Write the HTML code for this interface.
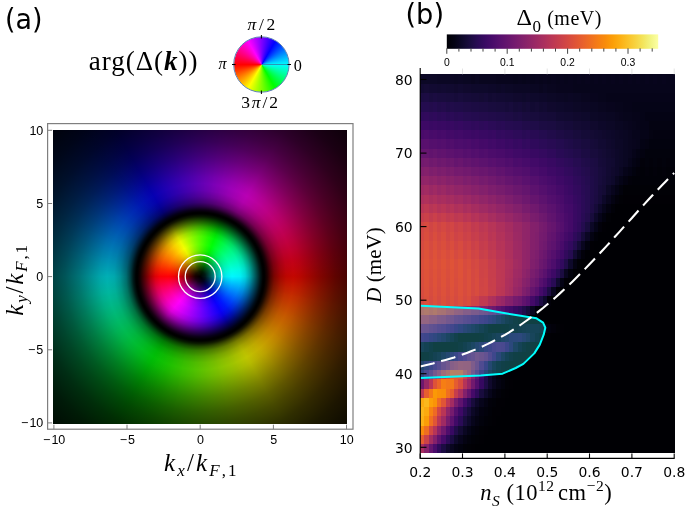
<!DOCTYPE html>
<html><head><meta charset="utf-8"><title>figure</title>
<style>
html,body{margin:0;padding:0;background:#fff}
#root{position:relative;width:685px;height:507px;overflow:hidden;background:#fff}
#ov{position:absolute;left:0;top:0}

#pa{position:absolute;left:53.0px;top:130.0px;width:294.2px;height:293.6px;background:conic-gradient(from 0deg at 147.2px 146.6px, rgba(0,0,0,0.085) 0deg, rgba(0,0,0,0.075) 15deg, rgba(0,0,0,0.063) 30deg, rgba(0,0,0,0.050) 45deg, rgba(0,0,0,0.037) 60deg, rgba(0,0,0,0.025) 75deg, rgba(0,0,0,0.015) 90deg, rgba(0,0,0,0.007) 105deg, rgba(0,0,0,0.002) 120deg, rgba(0,0,0,0.000) 135deg, rgba(0,0,0,0.002) 150deg, rgba(0,0,0,0.007) 165deg, rgba(0,0,0,0.015) 180deg, rgba(0,0,0,0.025) 195deg, rgba(0,0,0,0.037) 210deg, rgba(0,0,0,0.050) 225deg, rgba(0,0,0,0.063) 240deg, rgba(0,0,0,0.075) 255deg, rgba(0,0,0,0.085) 270deg, rgba(0,0,0,0.093) 285deg, rgba(0,0,0,0.098) 300deg, rgba(0,0,0,0.100) 315deg, rgba(0,0,0,0.098) 330deg, rgba(0,0,0,0.093) 345deg, rgba(0,0,0,0.085) 360deg), conic-gradient(from 0deg at 147.2px 146.6px, #8800ff 0deg, #b300ff 10deg, #dd00ff 20deg, #ff00f7 30deg, #ff00cc 40deg, #ff00a1 50deg, #ff0077 60deg, #ff004d 70deg, #ff0022 80deg, #ff0800 90deg, #ff3300 100deg, #ff5e00 110deg, #ff8800 120deg, #ffb200 130deg, #ffdd00 140deg, #f7ff00 150deg, #ccff00 160deg, #a2ff00 170deg, #77ff00 180deg, #4dff00 190deg, #22ff00 200deg, #00ff08 210deg, #00ff33 220deg, #00ff5e 230deg, #00ff88 240deg, #00ffb3 250deg, #00ffdd 260deg, #00f7ff 270deg, #00ccff 280deg, #00a2ff 290deg, #0077ff 300deg, #004cff 310deg, #0022ff 320deg, #0800ff 330deg, #3300ff 340deg, #5d00ff 350deg, #8800ff 360deg);overflow:hidden}
#pin{position:absolute;left:83.7px;top:83.1px;width:127.0px;height:127.0px;border-radius:50%;background:conic-gradient(from 0deg at 63.5px 63.5px, #55ff00 0deg, #28ff00 10deg, #00ff06 20deg, #00ff33 30deg, #00ff60 40deg, #00ff87 50deg, #00ffa7 60deg, #00ffc7 70deg, #00ffe7 80deg, #00f7ff 90deg, #00c9ff 100deg, #009cff 110deg, #006fff 120deg, #0041ff 130deg, #0019ff 140deg, #0b00ff 150deg, #2f00ff 160deg, #5300ff 170deg, #7700ff 180deg, #9a00ff 190deg, #bd00ff 200deg, #e000ff 210deg, #ff00fb 220deg, #ff00d1 230deg, #ff009f 240deg, #ff006d 250deg, #ff003b 260deg, #ff0008 270deg, #ff2400 280deg, #ff5000 290deg, #ff7d00 300deg, #ffa900 310deg, #ffd800 320deg, #f4ff00 330deg, #baff00 340deg, #85ff00 350deg, #55ff00 360deg)}
#pov{position:absolute;left:0;top:0;width:100%;height:100%;background:radial-gradient(circle at 147.2px 146.6px, rgba(0,0,0,1.000) 0.0px, rgba(0,0,0,0.900) 5.0px, rgba(0,0,0,0.680) 10.0px, rgba(0,0,0,0.420) 15.0px, rgba(0,0,0,0.200) 20.0px, rgba(0,0,0,0.050) 26.0px, rgba(0,0,0,0.000) 32.0px, rgba(0,0,0,0.030) 40.0px, rgba(0,0,0,0.140) 45.0px, rgba(0,0,0,0.360) 50.0px, rgba(0,0,0,0.580) 54.0px, rgba(0,0,0,0.740) 57.0px, rgba(0,0,0,0.900) 60.0px, rgba(0,0,0,0.990) 62.5px, rgba(0,0,0,1.000) 63.5px, rgba(0,0,0,0.990) 64.5px, rgba(0,0,0,0.892) 67.0px, rgba(0,0,0,0.708) 70.0px, rgba(0,0,0,0.514) 74.0px, rgba(0,0,0,0.352) 80.0px, rgba(0,0,0,0.255) 86.0px, rgba(0,0,0,0.222) 93.0px, rgba(0,0,0,0.266) 100.0px, rgba(0,0,0,0.374) 110.0px, rgba(0,0,0,0.482) 120.0px, rgba(0,0,0,0.622) 135.0px, rgba(0,0,0,0.708) 147.0px, rgba(0,0,0,0.811) 165.0px, rgba(0,0,0,0.892) 185.0px, rgba(0,0,0,0.941) 205.0px, rgba(0,0,0,0.973) 230.0px)}
#leg{position:absolute;left:233.7px;top:36.8px;width:55.4px;height:55.4px;border-radius:50%;background:conic-gradient(from 0deg at 27.7px 27.7px, #8000ff 0deg, #5500ff 10deg, #2a00ff 20deg, #0000ff 30deg, #002bff 40deg, #0055ff 50deg, #0080ff 60deg, #00aaff 70deg, #00d4ff 80deg, #00ffff 90deg, #00ffd4 100deg, #00ffaa 110deg, #00ff80 120deg, #00ff55 130deg, #00ff2a 140deg, #00ff00 150deg, #2aff00 160deg, #55ff00 170deg, #80ff00 180deg, #aaff00 190deg, #d4ff00 200deg, #ffff00 210deg, #ffd400 220deg, #ffaa00 230deg, #ff8000 240deg, #ff5500 250deg, #ff2a00 260deg, #ff0000 270deg, #ff002b 280deg, #ff0055 290deg, #ff0080 300deg, #ff00aa 310deg, #ff00d4 320deg, #ff00ff 330deg, #d500ff 340deg, #aa00ff 350deg, #8000ff 360deg)}

</style></head><body><div id="root">
<div id="pa"><div id="pin"></div><div id="pov"></div></div>
<div id="leg"></div>
<svg id="ov" width="685" height="507" viewBox="0 0 685 507">
<g shape-rendering="crispEdges"><rect x="420.20" y="443.66" width="4.63" height="9.64" fill="#a82e5f"/>
<rect x="424.43" y="443.66" width="4.63" height="9.64" fill="#88226a"/>
<rect x="428.67" y="443.66" width="4.63" height="9.64" fill="#64156e"/>
<rect x="432.90" y="443.66" width="4.63" height="9.64" fill="#4a0c6b"/>
<rect x="437.13" y="443.66" width="4.63" height="9.64" fill="#2f0a5b"/>
<rect x="441.37" y="443.66" width="4.63" height="9.64" fill="#1c0c43"/>
<rect x="445.60" y="443.66" width="4.63" height="9.64" fill="#10092d"/>
<rect x="449.83" y="443.66" width="4.63" height="9.64" fill="#09061f"/>
<rect x="454.07" y="443.66" width="4.63" height="9.64" fill="#040314"/>
<rect x="458.30" y="443.66" width="4.63" height="9.64" fill="#02020e"/>
<rect x="462.53" y="443.66" width="4.63" height="9.64" fill="#010108"/>
<rect x="466.77" y="443.66" width="4.63" height="9.64" fill="#010106"/>
<rect x="471.00" y="443.66" width="4.63" height="9.64" fill="#010005"/>
<rect x="475.23" y="443.66" width="199.37" height="9.64" fill="#000004"/>
<rect x="420.20" y="434.43" width="4.63" height="9.64" fill="#e55c30"/>
<rect x="424.43" y="434.43" width="4.63" height="9.64" fill="#cc4248"/>
<rect x="428.67" y="434.43" width="4.63" height="9.64" fill="#a32c61"/>
<rect x="432.90" y="434.43" width="4.63" height="9.64" fill="#84206b"/>
<rect x="437.13" y="434.43" width="4.63" height="9.64" fill="#61136e"/>
<rect x="441.37" y="434.43" width="4.63" height="9.64" fill="#470b6a"/>
<rect x="445.60" y="434.43" width="4.63" height="9.64" fill="#2d0b59"/>
<rect x="449.83" y="434.43" width="4.63" height="9.64" fill="#1c0c43"/>
<rect x="454.07" y="434.43" width="4.63" height="9.64" fill="#0e092b"/>
<rect x="458.30" y="434.43" width="4.63" height="9.64" fill="#08051d"/>
<rect x="462.53" y="434.43" width="4.63" height="9.64" fill="#040312"/>
<rect x="466.77" y="434.43" width="4.63" height="9.64" fill="#02020c"/>
<rect x="471.00" y="434.43" width="4.63" height="9.64" fill="#010108"/>
<rect x="475.23" y="434.43" width="4.63" height="9.64" fill="#010106"/>
<rect x="479.47" y="434.43" width="4.63" height="9.64" fill="#010005"/>
<rect x="483.70" y="434.43" width="190.90" height="9.64" fill="#000004"/>
<rect x="420.20" y="425.19" width="4.63" height="9.64" fill="#f98b0b"/>
<rect x="424.43" y="425.19" width="4.63" height="9.64" fill="#ef6e21"/>
<rect x="428.67" y="425.19" width="4.63" height="9.64" fill="#d24644"/>
<rect x="432.90" y="425.19" width="4.63" height="9.64" fill="#b63458"/>
<rect x="437.13" y="425.19" width="4.63" height="9.64" fill="#8d2369"/>
<rect x="441.37" y="425.19" width="4.63" height="9.64" fill="#6f196e"/>
<rect x="445.60" y="425.19" width="4.63" height="9.64" fill="#4f0d6c"/>
<rect x="449.83" y="425.19" width="4.63" height="9.64" fill="#380962"/>
<rect x="454.07" y="425.19" width="4.63" height="9.64" fill="#210c4a"/>
<rect x="458.30" y="425.19" width="4.63" height="9.64" fill="#140b34"/>
<rect x="462.53" y="425.19" width="4.63" height="9.64" fill="#0a0722"/>
<rect x="466.77" y="425.19" width="4.63" height="9.64" fill="#050417"/>
<rect x="471.00" y="425.19" width="4.63" height="9.64" fill="#02020e"/>
<rect x="475.23" y="425.19" width="4.63" height="9.64" fill="#02010a"/>
<rect x="479.47" y="425.19" width="4.63" height="9.64" fill="#010106"/>
<rect x="483.70" y="425.19" width="4.63" height="9.64" fill="#010005"/>
<rect x="487.93" y="425.19" width="186.67" height="9.64" fill="#000004"/>
<rect x="420.20" y="415.95" width="4.63" height="9.64" fill="#fcb216"/>
<rect x="424.43" y="415.95" width="4.63" height="9.64" fill="#fb9d07"/>
<rect x="428.67" y="415.95" width="4.63" height="9.64" fill="#f06f20"/>
<rect x="432.90" y="415.95" width="4.63" height="9.64" fill="#e05536"/>
<rect x="437.13" y="415.95" width="4.63" height="9.64" fill="#bc3754"/>
<rect x="441.37" y="415.95" width="4.63" height="9.64" fill="#9f2a63"/>
<rect x="445.60" y="415.95" width="4.63" height="9.64" fill="#771c6d"/>
<rect x="449.83" y="415.95" width="4.63" height="9.64" fill="#5d126e"/>
<rect x="454.07" y="415.95" width="4.63" height="9.64" fill="#400a67"/>
<rect x="458.30" y="415.95" width="4.63" height="9.64" fill="#2b0b57"/>
<rect x="462.53" y="415.95" width="4.63" height="9.64" fill="#180c3c"/>
<rect x="466.77" y="415.95" width="4.63" height="9.64" fill="#0e092b"/>
<rect x="471.00" y="415.95" width="4.63" height="9.64" fill="#07051b"/>
<rect x="475.23" y="415.95" width="4.63" height="9.64" fill="#040312"/>
<rect x="479.47" y="415.95" width="4.63" height="9.64" fill="#02020c"/>
<rect x="483.70" y="415.95" width="4.63" height="9.64" fill="#010108"/>
<rect x="487.93" y="415.95" width="4.63" height="9.64" fill="#010106"/>
<rect x="492.17" y="415.95" width="4.63" height="9.64" fill="#010005"/>
<rect x="496.40" y="415.95" width="178.20" height="9.64" fill="#000004"/>
<rect x="420.20" y="406.72" width="4.63" height="9.64" fill="#fbb61a"/>
<rect x="424.43" y="406.72" width="4.63" height="9.64" fill="#fcaa0f"/>
<rect x="428.67" y="406.72" width="4.63" height="9.64" fill="#f78212"/>
<rect x="432.90" y="406.72" width="4.63" height="9.64" fill="#ee6a24"/>
<rect x="437.13" y="406.72" width="4.63" height="9.64" fill="#d24644"/>
<rect x="441.37" y="406.72" width="4.63" height="9.64" fill="#b93556"/>
<rect x="445.60" y="406.72" width="4.63" height="9.64" fill="#902568"/>
<rect x="449.83" y="406.72" width="4.63" height="9.64" fill="#751b6e"/>
<rect x="454.07" y="406.72" width="4.63" height="9.64" fill="#550f6d"/>
<rect x="458.30" y="406.72" width="4.63" height="9.64" fill="#3e0966"/>
<rect x="462.53" y="406.72" width="4.63" height="9.64" fill="#260c51"/>
<rect x="466.77" y="406.72" width="4.63" height="9.64" fill="#180c3c"/>
<rect x="471.00" y="406.72" width="4.63" height="9.64" fill="#0c0826"/>
<rect x="475.23" y="406.72" width="4.63" height="9.64" fill="#07051b"/>
<rect x="479.47" y="406.72" width="4.63" height="9.64" fill="#030210"/>
<rect x="483.70" y="406.72" width="4.63" height="9.64" fill="#02020c"/>
<rect x="487.93" y="406.72" width="4.63" height="9.64" fill="#010108"/>
<rect x="492.17" y="406.72" width="8.87" height="9.64" fill="#010005"/>
<rect x="500.63" y="406.72" width="173.97" height="9.64" fill="#000004"/>
<rect x="420.20" y="397.48" width="4.63" height="9.64" fill="#fcac11"/>
<rect x="424.43" y="397.48" width="4.63" height="9.64" fill="#fbb81d"/>
<rect x="428.67" y="397.48" width="4.63" height="9.64" fill="#fc9f07"/>
<rect x="432.90" y="397.48" width="4.63" height="9.64" fill="#fa9407"/>
<rect x="437.13" y="397.48" width="4.63" height="9.64" fill="#ef6c23"/>
<rect x="441.37" y="397.48" width="4.63" height="9.64" fill="#e05536"/>
<rect x="445.60" y="397.48" width="4.63" height="9.64" fill="#bf3952"/>
<rect x="449.83" y="397.48" width="4.63" height="9.64" fill="#a22b62"/>
<rect x="454.07" y="397.48" width="4.63" height="9.64" fill="#7a1d6d"/>
<rect x="458.30" y="397.48" width="4.63" height="9.64" fill="#5f136e"/>
<rect x="462.53" y="397.48" width="4.63" height="9.64" fill="#420a68"/>
<rect x="466.77" y="397.48" width="4.63" height="9.64" fill="#2b0b57"/>
<rect x="471.00" y="397.48" width="4.63" height="9.64" fill="#180c3c"/>
<rect x="475.23" y="397.48" width="4.63" height="9.64" fill="#0d0829"/>
<rect x="479.47" y="397.48" width="4.63" height="9.64" fill="#07051b"/>
<rect x="483.70" y="397.48" width="4.63" height="9.64" fill="#040312"/>
<rect x="487.93" y="397.48" width="4.63" height="9.64" fill="#02010a"/>
<rect x="492.17" y="397.48" width="4.63" height="9.64" fill="#010108"/>
<rect x="496.40" y="397.48" width="8.87" height="9.64" fill="#010005"/>
<rect x="504.87" y="397.48" width="169.73" height="9.64" fill="#000004"/>
<rect x="420.20" y="388.24" width="4.63" height="9.64" fill="#bd3853"/>
<rect x="424.43" y="388.24" width="4.63" height="9.64" fill="#e75e2e"/>
<rect x="428.67" y="388.24" width="4.63" height="9.64" fill="#f47918"/>
<rect x="432.90" y="388.24" width="4.63" height="9.64" fill="#fb9906"/>
<rect x="437.13" y="388.24" width="4.63" height="9.64" fill="#fa9008"/>
<rect x="441.37" y="388.24" width="4.63" height="9.64" fill="#f98e09"/>
<rect x="445.60" y="388.24" width="4.63" height="9.64" fill="#f06f20"/>
<rect x="449.83" y="388.24" width="4.63" height="9.64" fill="#e55c30"/>
<rect x="454.07" y="388.24" width="4.63" height="9.64" fill="#c63d4d"/>
<rect x="458.30" y="388.24" width="4.63" height="9.64" fill="#ab2f5e"/>
<rect x="462.53" y="388.24" width="4.63" height="9.64" fill="#82206c"/>
<rect x="466.77" y="388.24" width="4.63" height="9.64" fill="#65156e"/>
<rect x="471.00" y="388.24" width="4.63" height="9.64" fill="#450a69"/>
<rect x="475.23" y="388.24" width="4.63" height="9.64" fill="#2f0a5b"/>
<rect x="479.47" y="388.24" width="4.63" height="9.64" fill="#190c3e"/>
<rect x="483.70" y="388.24" width="4.63" height="9.64" fill="#0e092b"/>
<rect x="487.93" y="388.24" width="4.63" height="9.64" fill="#07051b"/>
<rect x="492.17" y="388.24" width="4.63" height="9.64" fill="#030210"/>
<rect x="496.40" y="388.24" width="4.63" height="9.64" fill="#02010a"/>
<rect x="500.63" y="388.24" width="4.63" height="9.64" fill="#010106"/>
<rect x="504.87" y="388.24" width="4.63" height="9.64" fill="#010005"/>
<rect x="509.10" y="388.24" width="165.50" height="9.64" fill="#000004"/>
<rect x="420.20" y="379.01" width="4.63" height="9.64" fill="#6d186e"/>
<rect x="424.43" y="379.01" width="4.63" height="9.64" fill="#982766"/>
<rect x="428.67" y="379.01" width="4.63" height="9.64" fill="#b93556"/>
<rect x="432.90" y="379.01" width="4.63" height="9.64" fill="#de5238"/>
<rect x="437.13" y="379.01" width="4.63" height="9.64" fill="#eb6429"/>
<rect x="441.37" y="379.01" width="4.63" height="9.64" fill="#f67e14"/>
<rect x="445.60" y="379.01" width="8.87" height="9.64" fill="#f37819"/>
<rect x="454.07" y="379.01" width="4.63" height="9.64" fill="#e55c30"/>
<rect x="458.30" y="379.01" width="4.63" height="9.64" fill="#d74b3f"/>
<rect x="462.53" y="379.01" width="4.63" height="9.64" fill="#b43359"/>
<rect x="466.77" y="379.01" width="4.63" height="9.64" fill="#972766"/>
<rect x="471.00" y="379.01" width="4.63" height="9.64" fill="#71196e"/>
<rect x="475.23" y="379.01" width="4.63" height="9.64" fill="#540f6d"/>
<rect x="479.47" y="379.01" width="4.63" height="9.64" fill="#360961"/>
<rect x="483.70" y="379.01" width="4.63" height="9.64" fill="#1f0c48"/>
<rect x="487.93" y="379.01" width="4.63" height="9.64" fill="#10092d"/>
<rect x="492.17" y="379.01" width="4.63" height="9.64" fill="#08051d"/>
<rect x="496.40" y="379.01" width="4.63" height="9.64" fill="#040312"/>
<rect x="500.63" y="379.01" width="4.63" height="9.64" fill="#02020c"/>
<rect x="504.87" y="379.01" width="4.63" height="9.64" fill="#010106"/>
<rect x="509.10" y="379.01" width="4.63" height="9.64" fill="#010005"/>
<rect x="513.33" y="379.01" width="161.27" height="9.64" fill="#000004"/>
<rect x="420.20" y="369.77" width="4.63" height="9.64" fill="#320a5e"/>
<rect x="424.43" y="369.77" width="4.63" height="9.64" fill="#510e6c"/>
<rect x="428.67" y="369.77" width="4.63" height="9.64" fill="#6a176e"/>
<rect x="432.90" y="369.77" width="4.63" height="9.64" fill="#8d2369"/>
<rect x="437.13" y="369.77" width="4.63" height="9.64" fill="#a62d60"/>
<rect x="441.37" y="369.77" width="4.63" height="9.64" fill="#c63d4d"/>
<rect x="445.60" y="369.77" width="4.63" height="9.64" fill="#d44842"/>
<rect x="449.83" y="369.77" width="4.63" height="9.64" fill="#e45a31"/>
<rect x="454.07" y="369.77" width="8.87" height="9.64" fill="#e25734"/>
<rect x="462.53" y="369.77" width="4.63" height="9.64" fill="#ca404a"/>
<rect x="466.77" y="369.77" width="4.63" height="9.64" fill="#b1325a"/>
<rect x="471.00" y="369.77" width="4.63" height="9.64" fill="#85216b"/>
<rect x="475.23" y="369.77" width="4.63" height="9.64" fill="#62146e"/>
<rect x="479.47" y="369.77" width="4.63" height="9.64" fill="#3d0965"/>
<rect x="483.70" y="369.77" width="4.63" height="9.64" fill="#210c4a"/>
<rect x="487.93" y="369.77" width="4.63" height="9.64" fill="#0e092b"/>
<rect x="492.17" y="369.77" width="4.63" height="9.64" fill="#060419"/>
<rect x="496.40" y="369.77" width="4.63" height="9.64" fill="#02020c"/>
<rect x="500.63" y="369.77" width="4.63" height="9.64" fill="#010106"/>
<rect x="504.87" y="369.77" width="4.63" height="9.64" fill="#010005"/>
<rect x="509.10" y="369.77" width="165.50" height="9.64" fill="#000004"/>
<rect x="420.20" y="360.53" width="4.63" height="9.64" fill="#1b0c41"/>
<rect x="424.43" y="360.53" width="4.63" height="9.64" fill="#2b0b57"/>
<rect x="428.67" y="360.53" width="4.63" height="9.64" fill="#3b0964"/>
<rect x="432.90" y="360.53" width="4.63" height="9.64" fill="#4f0d6c"/>
<rect x="437.13" y="360.53" width="4.63" height="9.64" fill="#61136e"/>
<rect x="441.37" y="360.53" width="4.63" height="9.64" fill="#781c6d"/>
<rect x="445.60" y="360.53" width="4.63" height="9.64" fill="#88226a"/>
<rect x="449.83" y="360.53" width="4.63" height="9.64" fill="#a22b62"/>
<rect x="454.07" y="360.53" width="4.63" height="9.64" fill="#ab2f5e"/>
<rect x="458.30" y="360.53" width="4.63" height="9.64" fill="#b63458"/>
<rect x="462.53" y="360.53" width="4.63" height="9.64" fill="#b3325a"/>
<rect x="466.77" y="360.53" width="4.63" height="9.64" fill="#b1325a"/>
<rect x="471.00" y="360.53" width="4.63" height="9.64" fill="#972766"/>
<rect x="475.23" y="360.53" width="4.63" height="9.64" fill="#7d1e6d"/>
<rect x="479.47" y="360.53" width="4.63" height="9.64" fill="#57106e"/>
<rect x="483.70" y="360.53" width="4.63" height="9.64" fill="#390963"/>
<rect x="487.93" y="360.53" width="4.63" height="9.64" fill="#1c0c43"/>
<rect x="492.17" y="360.53" width="4.63" height="9.64" fill="#0c0826"/>
<rect x="496.40" y="360.53" width="4.63" height="9.64" fill="#040314"/>
<rect x="500.63" y="360.53" width="4.63" height="9.64" fill="#02010a"/>
<rect x="504.87" y="360.53" width="4.63" height="9.64" fill="#010106"/>
<rect x="509.10" y="360.53" width="165.50" height="9.64" fill="#000004"/>
<rect x="420.20" y="351.30" width="4.63" height="9.64" fill="#010005"/>
<rect x="424.43" y="351.30" width="4.63" height="9.64" fill="#010108"/>
<rect x="428.67" y="351.30" width="4.63" height="9.64" fill="#02020e"/>
<rect x="432.90" y="351.30" width="4.63" height="9.64" fill="#060419"/>
<rect x="437.13" y="351.30" width="4.63" height="9.64" fill="#0a0722"/>
<rect x="441.37" y="351.30" width="4.63" height="9.64" fill="#120a32"/>
<rect x="445.60" y="351.30" width="4.63" height="9.64" fill="#1c0c43"/>
<rect x="449.83" y="351.30" width="4.63" height="9.64" fill="#2b0b57"/>
<rect x="454.07" y="351.30" width="4.63" height="9.64" fill="#390963"/>
<rect x="458.30" y="351.30" width="4.63" height="9.64" fill="#4c0c6b"/>
<rect x="462.53" y="351.30" width="4.63" height="9.64" fill="#59106e"/>
<rect x="466.77" y="351.30" width="4.63" height="9.64" fill="#6c186e"/>
<rect x="471.00" y="351.30" width="4.63" height="9.64" fill="#751b6e"/>
<rect x="475.23" y="351.30" width="4.63" height="9.64" fill="#85216b"/>
<rect x="479.47" y="351.30" width="4.63" height="9.64" fill="#7f1e6c"/>
<rect x="483.70" y="351.30" width="4.63" height="9.64" fill="#741a6e"/>
<rect x="487.93" y="351.30" width="4.63" height="9.64" fill="#59106e"/>
<rect x="492.17" y="351.30" width="4.63" height="9.64" fill="#400a67"/>
<rect x="496.40" y="351.30" width="4.63" height="9.64" fill="#240c4f"/>
<rect x="500.63" y="351.30" width="4.63" height="9.64" fill="#120a32"/>
<rect x="504.87" y="351.30" width="4.63" height="9.64" fill="#08051d"/>
<rect x="509.10" y="351.30" width="4.63" height="9.64" fill="#030210"/>
<rect x="513.33" y="351.30" width="4.63" height="9.64" fill="#010108"/>
<rect x="517.57" y="351.30" width="4.63" height="9.64" fill="#010005"/>
<rect x="521.80" y="351.30" width="152.80" height="9.64" fill="#000004"/>
<rect x="420.20" y="342.06" width="4.63" height="9.64" fill="#0b0724"/>
<rect x="424.43" y="342.06" width="4.63" height="9.64" fill="#060419"/>
<rect x="428.67" y="342.06" width="4.63" height="9.64" fill="#02020e"/>
<rect x="432.90" y="342.06" width="21.57" height="9.64" fill="#000004"/>
<rect x="454.07" y="342.06" width="4.63" height="9.64" fill="#010005"/>
<rect x="458.30" y="342.06" width="4.63" height="9.64" fill="#02020c"/>
<rect x="462.53" y="342.06" width="4.63" height="9.64" fill="#050417"/>
<rect x="466.77" y="342.06" width="4.63" height="9.64" fill="#0a0722"/>
<rect x="471.00" y="342.06" width="4.63" height="9.64" fill="#110a30"/>
<rect x="475.23" y="342.06" width="4.63" height="9.64" fill="#1b0c41"/>
<rect x="479.47" y="342.06" width="4.63" height="9.64" fill="#240c4f"/>
<rect x="483.70" y="342.06" width="4.63" height="9.64" fill="#340a5f"/>
<rect x="487.93" y="342.06" width="4.63" height="9.64" fill="#3e0966"/>
<rect x="492.17" y="342.06" width="4.63" height="9.64" fill="#4c0c6b"/>
<rect x="496.40" y="342.06" width="4.63" height="9.64" fill="#520e6d"/>
<rect x="500.63" y="342.06" width="4.63" height="9.64" fill="#4f0d6c"/>
<rect x="504.87" y="342.06" width="4.63" height="9.64" fill="#3b0964"/>
<rect x="509.10" y="342.06" width="4.63" height="9.64" fill="#260c51"/>
<rect x="513.33" y="342.06" width="4.63" height="9.64" fill="#120a32"/>
<rect x="517.57" y="342.06" width="4.63" height="9.64" fill="#08051d"/>
<rect x="521.80" y="342.06" width="4.63" height="9.64" fill="#02020e"/>
<rect x="526.03" y="342.06" width="4.63" height="9.64" fill="#010106"/>
<rect x="530.27" y="342.06" width="4.63" height="9.64" fill="#010005"/>
<rect x="534.50" y="342.06" width="140.10" height="9.64" fill="#000004"/>
<rect x="420.20" y="332.82" width="4.63" height="9.64" fill="#440a68"/>
<rect x="424.43" y="332.82" width="4.63" height="9.64" fill="#3e0966"/>
<rect x="428.67" y="332.82" width="4.63" height="9.64" fill="#320a5e"/>
<rect x="432.90" y="332.82" width="4.63" height="9.64" fill="#2b0b57"/>
<rect x="437.13" y="332.82" width="4.63" height="9.64" fill="#210c4a"/>
<rect x="441.37" y="332.82" width="4.63" height="9.64" fill="#190c3e"/>
<rect x="445.60" y="332.82" width="4.63" height="9.64" fill="#10092d"/>
<rect x="449.83" y="332.82" width="4.63" height="9.64" fill="#09061f"/>
<rect x="454.07" y="332.82" width="4.63" height="9.64" fill="#030210"/>
<rect x="458.30" y="332.82" width="21.57" height="9.64" fill="#000004"/>
<rect x="479.47" y="332.82" width="4.63" height="9.64" fill="#010106"/>
<rect x="483.70" y="332.82" width="4.63" height="9.64" fill="#02020e"/>
<rect x="487.93" y="332.82" width="4.63" height="9.64" fill="#040314"/>
<rect x="492.17" y="332.82" width="4.63" height="9.64" fill="#09061f"/>
<rect x="496.40" y="332.82" width="4.63" height="9.64" fill="#0d0829"/>
<rect x="500.63" y="332.82" width="4.63" height="9.64" fill="#150b37"/>
<rect x="504.87" y="332.82" width="4.63" height="9.64" fill="#1b0c41"/>
<rect x="509.10" y="332.82" width="4.63" height="9.64" fill="#240c4f"/>
<rect x="513.33" y="332.82" width="4.63" height="9.64" fill="#260c51"/>
<rect x="517.57" y="332.82" width="4.63" height="9.64" fill="#280b53"/>
<rect x="521.80" y="332.82" width="4.63" height="9.64" fill="#1f0c48"/>
<rect x="526.03" y="332.82" width="4.63" height="9.64" fill="#160b39"/>
<rect x="530.27" y="332.82" width="4.63" height="9.64" fill="#0b0724"/>
<rect x="534.50" y="332.82" width="4.63" height="9.64" fill="#050417"/>
<rect x="538.73" y="332.82" width="4.63" height="9.64" fill="#02020c"/>
<rect x="542.97" y="332.82" width="4.63" height="9.64" fill="#010106"/>
<rect x="547.20" y="332.82" width="4.63" height="9.64" fill="#010005"/>
<rect x="551.43" y="332.82" width="123.17" height="9.64" fill="#000004"/>
<rect x="420.20" y="323.59" width="4.63" height="9.64" fill="#7d1e6d"/>
<rect x="424.43" y="323.59" width="4.63" height="9.64" fill="#7a1d6d"/>
<rect x="428.67" y="323.59" width="4.63" height="9.64" fill="#6f196e"/>
<rect x="432.90" y="323.59" width="4.63" height="9.64" fill="#6a176e"/>
<rect x="437.13" y="323.59" width="4.63" height="9.64" fill="#5f136e"/>
<rect x="441.37" y="323.59" width="4.63" height="9.64" fill="#5a116e"/>
<rect x="445.60" y="323.59" width="4.63" height="9.64" fill="#4d0d6c"/>
<rect x="449.83" y="323.59" width="4.63" height="9.64" fill="#450a69"/>
<rect x="454.07" y="323.59" width="4.63" height="9.64" fill="#380962"/>
<rect x="458.30" y="323.59" width="4.63" height="9.64" fill="#2d0b59"/>
<rect x="462.53" y="323.59" width="4.63" height="9.64" fill="#230c4c"/>
<rect x="466.77" y="323.59" width="4.63" height="9.64" fill="#1c0c43"/>
<rect x="471.00" y="323.59" width="4.63" height="9.64" fill="#150b37"/>
<rect x="475.23" y="323.59" width="4.63" height="9.64" fill="#10092d"/>
<rect x="479.47" y="323.59" width="4.63" height="9.64" fill="#09061f"/>
<rect x="483.70" y="323.59" width="4.63" height="9.64" fill="#040312"/>
<rect x="487.93" y="323.59" width="4.63" height="9.64" fill="#010106"/>
<rect x="492.17" y="323.59" width="8.87" height="9.64" fill="#000004"/>
<rect x="500.63" y="323.59" width="4.63" height="9.64" fill="#010106"/>
<rect x="504.87" y="323.59" width="4.63" height="9.64" fill="#010108"/>
<rect x="509.10" y="323.59" width="4.63" height="9.64" fill="#02020e"/>
<rect x="513.33" y="323.59" width="4.63" height="9.64" fill="#030210"/>
<rect x="517.57" y="323.59" width="4.63" height="9.64" fill="#050417"/>
<rect x="521.80" y="323.59" width="4.63" height="9.64" fill="#07051b"/>
<rect x="526.03" y="323.59" width="13.10" height="9.64" fill="#09061f"/>
<rect x="538.73" y="323.59" width="4.63" height="9.64" fill="#07051b"/>
<rect x="542.97" y="323.59" width="4.63" height="9.64" fill="#050417"/>
<rect x="547.20" y="323.59" width="4.63" height="9.64" fill="#02020e"/>
<rect x="551.43" y="323.59" width="4.63" height="9.64" fill="#02010a"/>
<rect x="555.67" y="323.59" width="4.63" height="9.64" fill="#010106"/>
<rect x="559.90" y="323.59" width="4.63" height="9.64" fill="#010005"/>
<rect x="564.13" y="323.59" width="110.47" height="9.64" fill="#000004"/>
<rect x="420.20" y="314.35" width="8.87" height="9.64" fill="#b63458"/>
<rect x="428.67" y="314.35" width="4.63" height="9.64" fill="#a92e5e"/>
<rect x="432.90" y="314.35" width="4.63" height="9.64" fill="#a82e5f"/>
<rect x="437.13" y="314.35" width="4.63" height="9.64" fill="#9a2865"/>
<rect x="441.37" y="314.35" width="4.63" height="9.64" fill="#972766"/>
<rect x="445.60" y="314.35" width="4.63" height="9.64" fill="#8a226a"/>
<rect x="449.83" y="314.35" width="4.63" height="9.64" fill="#84206b"/>
<rect x="454.07" y="314.35" width="4.63" height="9.64" fill="#751b6e"/>
<rect x="458.30" y="314.35" width="4.63" height="9.64" fill="#6f196e"/>
<rect x="462.53" y="314.35" width="4.63" height="9.64" fill="#64156e"/>
<rect x="466.77" y="314.35" width="4.63" height="9.64" fill="#61136e"/>
<rect x="471.00" y="314.35" width="4.63" height="9.64" fill="#550f6d"/>
<rect x="475.23" y="314.35" width="4.63" height="9.64" fill="#510e6c"/>
<rect x="479.47" y="314.35" width="4.63" height="9.64" fill="#450a69"/>
<rect x="483.70" y="314.35" width="4.63" height="9.64" fill="#3e0966"/>
<rect x="487.93" y="314.35" width="4.63" height="9.64" fill="#310a5c"/>
<rect x="492.17" y="314.35" width="4.63" height="9.64" fill="#280b53"/>
<rect x="496.40" y="314.35" width="4.63" height="9.64" fill="#1b0c41"/>
<rect x="500.63" y="314.35" width="4.63" height="9.64" fill="#110a30"/>
<rect x="504.87" y="314.35" width="4.63" height="9.64" fill="#09061f"/>
<rect x="509.10" y="314.35" width="4.63" height="9.64" fill="#050417"/>
<rect x="513.33" y="314.35" width="4.63" height="9.64" fill="#02020c"/>
<rect x="517.57" y="314.35" width="157.03" height="9.64" fill="#000004"/>
<rect x="420.20" y="305.11" width="4.63" height="9.64" fill="#d54a41"/>
<rect x="424.43" y="305.11" width="4.63" height="9.64" fill="#db503b"/>
<rect x="428.67" y="305.11" width="4.63" height="9.64" fill="#d54a41"/>
<rect x="432.90" y="305.11" width="4.63" height="9.64" fill="#db503b"/>
<rect x="437.13" y="305.11" width="4.63" height="9.64" fill="#d24644"/>
<rect x="441.37" y="305.11" width="4.63" height="9.64" fill="#d04545"/>
<rect x="445.60" y="305.11" width="4.63" height="9.64" fill="#c33b4f"/>
<rect x="449.83" y="305.11" width="4.63" height="9.64" fill="#c13a50"/>
<rect x="454.07" y="305.11" width="4.63" height="9.64" fill="#b3325a"/>
<rect x="458.30" y="305.11" width="4.63" height="9.64" fill="#ae305c"/>
<rect x="462.53" y="305.11" width="8.87" height="9.64" fill="#a02a63"/>
<rect x="471.00" y="305.11" width="4.63" height="9.64" fill="#932667"/>
<rect x="475.23" y="305.11" width="4.63" height="9.64" fill="#922568"/>
<rect x="479.47" y="305.11" width="4.63" height="9.64" fill="#85216b"/>
<rect x="483.70" y="305.11" width="4.63" height="9.64" fill="#801f6c"/>
<rect x="487.93" y="305.11" width="4.63" height="9.64" fill="#721a6e"/>
<rect x="492.17" y="305.11" width="4.63" height="9.64" fill="#6c186e"/>
<rect x="496.40" y="305.11" width="4.63" height="9.64" fill="#5d126e"/>
<rect x="500.63" y="305.11" width="4.63" height="9.64" fill="#540f6d"/>
<rect x="504.87" y="305.11" width="4.63" height="9.64" fill="#470b6a"/>
<rect x="509.10" y="305.11" width="4.63" height="9.64" fill="#420a68"/>
<rect x="513.33" y="305.11" width="4.63" height="9.64" fill="#360961"/>
<rect x="517.57" y="305.11" width="4.63" height="9.64" fill="#2d0b59"/>
<rect x="521.80" y="305.11" width="4.63" height="9.64" fill="#210c4a"/>
<rect x="526.03" y="305.11" width="4.63" height="9.64" fill="#160b39"/>
<rect x="530.27" y="305.11" width="4.63" height="9.64" fill="#09061f"/>
<rect x="534.50" y="305.11" width="4.63" height="9.64" fill="#02010a"/>
<rect x="538.73" y="305.11" width="135.87" height="9.64" fill="#000004"/>
<rect x="420.20" y="295.88" width="4.63" height="9.64" fill="#d54a41"/>
<rect x="424.43" y="295.88" width="4.63" height="9.64" fill="#db503b"/>
<rect x="428.67" y="295.88" width="4.63" height="9.64" fill="#d54a41"/>
<rect x="432.90" y="295.88" width="4.63" height="9.64" fill="#db503b"/>
<rect x="437.13" y="295.88" width="4.63" height="9.64" fill="#d54a41"/>
<rect x="441.37" y="295.88" width="4.63" height="9.64" fill="#db503b"/>
<rect x="445.60" y="295.88" width="4.63" height="9.64" fill="#d54a41"/>
<rect x="449.83" y="295.88" width="4.63" height="9.64" fill="#db503b"/>
<rect x="454.07" y="295.88" width="4.63" height="9.64" fill="#d54a41"/>
<rect x="458.30" y="295.88" width="4.63" height="9.64" fill="#db503b"/>
<rect x="462.53" y="295.88" width="4.63" height="9.64" fill="#d54a41"/>
<rect x="466.77" y="295.88" width="4.63" height="9.64" fill="#d94d3d"/>
<rect x="471.00" y="295.88" width="4.63" height="9.64" fill="#cf4446"/>
<rect x="475.23" y="295.88" width="4.63" height="9.64" fill="#ce4347"/>
<rect x="479.47" y="295.88" width="4.63" height="9.64" fill="#c13a50"/>
<rect x="483.70" y="295.88" width="4.63" height="9.64" fill="#c03a51"/>
<rect x="487.93" y="295.88" width="4.63" height="9.64" fill="#b1325a"/>
<rect x="492.17" y="295.88" width="4.63" height="9.64" fill="#ad305d"/>
<rect x="496.40" y="295.88" width="4.63" height="9.64" fill="#9d2964"/>
<rect x="500.63" y="295.88" width="4.63" height="9.64" fill="#972766"/>
<rect x="504.87" y="295.88" width="4.63" height="9.64" fill="#87216b"/>
<rect x="509.10" y="295.88" width="4.63" height="9.64" fill="#84206b"/>
<rect x="513.33" y="295.88" width="4.63" height="9.64" fill="#751b6e"/>
<rect x="517.57" y="295.88" width="4.63" height="9.64" fill="#6f196e"/>
<rect x="521.80" y="295.88" width="4.63" height="9.64" fill="#61136e"/>
<rect x="526.03" y="295.88" width="4.63" height="9.64" fill="#57106e"/>
<rect x="530.27" y="295.88" width="4.63" height="9.64" fill="#440a68"/>
<rect x="534.50" y="295.88" width="4.63" height="9.64" fill="#320a5e"/>
<rect x="538.73" y="295.88" width="4.63" height="9.64" fill="#1e0c45"/>
<rect x="542.97" y="295.88" width="4.63" height="9.64" fill="#0e092b"/>
<rect x="547.20" y="295.88" width="4.63" height="9.64" fill="#02010a"/>
<rect x="551.43" y="295.88" width="123.17" height="9.64" fill="#000004"/>
<rect x="420.20" y="286.64" width="4.63" height="9.64" fill="#d74b3f"/>
<rect x="424.43" y="286.64" width="4.63" height="9.64" fill="#dd513a"/>
<rect x="428.67" y="286.64" width="4.63" height="9.64" fill="#d74b3f"/>
<rect x="432.90" y="286.64" width="4.63" height="9.64" fill="#dd513a"/>
<rect x="437.13" y="286.64" width="4.63" height="9.64" fill="#d74b3f"/>
<rect x="441.37" y="286.64" width="4.63" height="9.64" fill="#dd513a"/>
<rect x="445.60" y="286.64" width="4.63" height="9.64" fill="#d74b3f"/>
<rect x="449.83" y="286.64" width="4.63" height="9.64" fill="#dd513a"/>
<rect x="454.07" y="286.64" width="4.63" height="9.64" fill="#d74b3f"/>
<rect x="458.30" y="286.64" width="4.63" height="9.64" fill="#dd513a"/>
<rect x="462.53" y="286.64" width="4.63" height="9.64" fill="#d74b3f"/>
<rect x="466.77" y="286.64" width="4.63" height="9.64" fill="#db503b"/>
<rect x="471.00" y="286.64" width="4.63" height="9.64" fill="#d44842"/>
<rect x="475.23" y="286.64" width="4.63" height="9.64" fill="#d84c3e"/>
<rect x="479.47" y="286.64" width="4.63" height="9.64" fill="#d04545"/>
<rect x="483.70" y="286.64" width="4.63" height="9.64" fill="#d24644"/>
<rect x="487.93" y="286.64" width="8.87" height="9.64" fill="#c83f4b"/>
<rect x="496.40" y="286.64" width="4.63" height="9.64" fill="#bc3754"/>
<rect x="500.63" y="286.64" width="4.63" height="9.64" fill="#ba3655"/>
<rect x="504.87" y="286.64" width="4.63" height="9.64" fill="#ad305d"/>
<rect x="509.10" y="286.64" width="4.63" height="9.64" fill="#a82e5f"/>
<rect x="513.33" y="286.64" width="4.63" height="9.64" fill="#982766"/>
<rect x="517.57" y="286.64" width="4.63" height="9.64" fill="#922568"/>
<rect x="521.80" y="286.64" width="4.63" height="9.64" fill="#801f6c"/>
<rect x="526.03" y="286.64" width="4.63" height="9.64" fill="#771c6d"/>
<rect x="530.27" y="286.64" width="4.63" height="9.64" fill="#65156e"/>
<rect x="534.50" y="286.64" width="4.63" height="9.64" fill="#59106e"/>
<rect x="538.73" y="286.64" width="4.63" height="9.64" fill="#450a69"/>
<rect x="542.97" y="286.64" width="4.63" height="9.64" fill="#360961"/>
<rect x="547.20" y="286.64" width="4.63" height="9.64" fill="#1e0c45"/>
<rect x="551.43" y="286.64" width="4.63" height="9.64" fill="#09061f"/>
<rect x="555.67" y="286.64" width="4.63" height="9.64" fill="#010106"/>
<rect x="559.90" y="286.64" width="114.70" height="9.64" fill="#000004"/>
<rect x="420.20" y="277.40" width="4.63" height="9.64" fill="#d84c3e"/>
<rect x="424.43" y="277.40" width="4.63" height="9.64" fill="#de5238"/>
<rect x="428.67" y="277.40" width="4.63" height="9.64" fill="#d84c3e"/>
<rect x="432.90" y="277.40" width="4.63" height="9.64" fill="#de5238"/>
<rect x="437.13" y="277.40" width="4.63" height="9.64" fill="#d84c3e"/>
<rect x="441.37" y="277.40" width="4.63" height="9.64" fill="#de5238"/>
<rect x="445.60" y="277.40" width="4.63" height="9.64" fill="#d84c3e"/>
<rect x="449.83" y="277.40" width="4.63" height="9.64" fill="#de5238"/>
<rect x="454.07" y="277.40" width="4.63" height="9.64" fill="#d84c3e"/>
<rect x="458.30" y="277.40" width="4.63" height="9.64" fill="#dd513a"/>
<rect x="462.53" y="277.40" width="4.63" height="9.64" fill="#d74b3f"/>
<rect x="466.77" y="277.40" width="4.63" height="9.64" fill="#db503b"/>
<rect x="471.00" y="277.40" width="4.63" height="9.64" fill="#d44842"/>
<rect x="475.23" y="277.40" width="4.63" height="9.64" fill="#d84c3e"/>
<rect x="479.47" y="277.40" width="4.63" height="9.64" fill="#cf4446"/>
<rect x="483.70" y="277.40" width="4.63" height="9.64" fill="#d24644"/>
<rect x="487.93" y="277.40" width="4.63" height="9.64" fill="#c73e4c"/>
<rect x="492.17" y="277.40" width="4.63" height="9.64" fill="#c83f4b"/>
<rect x="496.40" y="277.40" width="4.63" height="9.64" fill="#bd3853"/>
<rect x="500.63" y="277.40" width="4.63" height="9.64" fill="#bc3754"/>
<rect x="504.87" y="277.40" width="4.63" height="9.64" fill="#ae305c"/>
<rect x="509.10" y="277.40" width="4.63" height="9.64" fill="#ab2f5e"/>
<rect x="513.33" y="277.40" width="4.63" height="9.64" fill="#9d2964"/>
<rect x="517.57" y="277.40" width="4.63" height="9.64" fill="#982766"/>
<rect x="521.80" y="277.40" width="4.63" height="9.64" fill="#88226a"/>
<rect x="526.03" y="277.40" width="4.63" height="9.64" fill="#82206c"/>
<rect x="530.27" y="277.40" width="4.63" height="9.64" fill="#721a6e"/>
<rect x="534.50" y="277.40" width="4.63" height="9.64" fill="#69166e"/>
<rect x="538.73" y="277.40" width="4.63" height="9.64" fill="#57106e"/>
<rect x="542.97" y="277.40" width="4.63" height="9.64" fill="#4c0c6b"/>
<rect x="547.20" y="277.40" width="4.63" height="9.64" fill="#390963"/>
<rect x="551.43" y="277.40" width="4.63" height="9.64" fill="#290b55"/>
<rect x="555.67" y="277.40" width="4.63" height="9.64" fill="#110a30"/>
<rect x="559.90" y="277.40" width="4.63" height="9.64" fill="#040314"/>
<rect x="564.13" y="277.40" width="4.63" height="9.64" fill="#010005"/>
<rect x="568.37" y="277.40" width="106.23" height="9.64" fill="#000004"/>
<rect x="420.20" y="268.17" width="4.63" height="9.64" fill="#d94d3d"/>
<rect x="424.43" y="268.17" width="4.63" height="9.64" fill="#de5238"/>
<rect x="428.67" y="268.17" width="4.63" height="9.64" fill="#d94d3d"/>
<rect x="432.90" y="268.17" width="4.63" height="9.64" fill="#de5238"/>
<rect x="437.13" y="268.17" width="4.63" height="9.64" fill="#d94d3d"/>
<rect x="441.37" y="268.17" width="4.63" height="9.64" fill="#de5238"/>
<rect x="445.60" y="268.17" width="4.63" height="9.64" fill="#d94d3d"/>
<rect x="449.83" y="268.17" width="4.63" height="9.64" fill="#de5238"/>
<rect x="454.07" y="268.17" width="4.63" height="9.64" fill="#d94d3d"/>
<rect x="458.30" y="268.17" width="4.63" height="9.64" fill="#de5238"/>
<rect x="462.53" y="268.17" width="4.63" height="9.64" fill="#d74b3f"/>
<rect x="466.77" y="268.17" width="4.63" height="9.64" fill="#db503b"/>
<rect x="471.00" y="268.17" width="4.63" height="9.64" fill="#d44842"/>
<rect x="475.23" y="268.17" width="4.63" height="9.64" fill="#d74b3f"/>
<rect x="479.47" y="268.17" width="4.63" height="9.64" fill="#ce4347"/>
<rect x="483.70" y="268.17" width="4.63" height="9.64" fill="#d04545"/>
<rect x="487.93" y="268.17" width="8.87" height="9.64" fill="#c73e4c"/>
<rect x="496.40" y="268.17" width="4.63" height="9.64" fill="#bd3853"/>
<rect x="500.63" y="268.17" width="4.63" height="9.64" fill="#bc3754"/>
<rect x="504.87" y="268.17" width="4.63" height="9.64" fill="#b0315b"/>
<rect x="509.10" y="268.17" width="4.63" height="9.64" fill="#ae305c"/>
<rect x="513.33" y="268.17" width="4.63" height="9.64" fill="#a02a63"/>
<rect x="517.57" y="268.17" width="4.63" height="9.64" fill="#9d2964"/>
<rect x="521.80" y="268.17" width="4.63" height="9.64" fill="#8f2469"/>
<rect x="526.03" y="268.17" width="4.63" height="9.64" fill="#88226a"/>
<rect x="530.27" y="268.17" width="4.63" height="9.64" fill="#7a1d6d"/>
<rect x="534.50" y="268.17" width="4.63" height="9.64" fill="#721a6e"/>
<rect x="538.73" y="268.17" width="4.63" height="9.64" fill="#64156e"/>
<rect x="542.97" y="268.17" width="4.63" height="9.64" fill="#5a116e"/>
<rect x="547.20" y="268.17" width="4.63" height="9.64" fill="#4a0c6b"/>
<rect x="551.43" y="268.17" width="4.63" height="9.64" fill="#3e0966"/>
<rect x="555.67" y="268.17" width="4.63" height="9.64" fill="#2d0b59"/>
<rect x="559.90" y="268.17" width="4.63" height="9.64" fill="#1b0c41"/>
<rect x="564.13" y="268.17" width="4.63" height="9.64" fill="#09061f"/>
<rect x="568.37" y="268.17" width="4.63" height="9.64" fill="#02020c"/>
<rect x="572.60" y="268.17" width="102.00" height="9.64" fill="#000004"/>
<rect x="420.20" y="258.93" width="4.63" height="9.64" fill="#da4e3c"/>
<rect x="424.43" y="258.93" width="4.63" height="9.64" fill="#df5337"/>
<rect x="428.67" y="258.93" width="4.63" height="9.64" fill="#da4e3c"/>
<rect x="432.90" y="258.93" width="4.63" height="9.64" fill="#df5337"/>
<rect x="437.13" y="258.93" width="4.63" height="9.64" fill="#da4e3c"/>
<rect x="441.37" y="258.93" width="4.63" height="9.64" fill="#df5337"/>
<rect x="445.60" y="258.93" width="4.63" height="9.64" fill="#da4e3c"/>
<rect x="449.83" y="258.93" width="4.63" height="9.64" fill="#df5337"/>
<rect x="454.07" y="258.93" width="4.63" height="9.64" fill="#d94d3d"/>
<rect x="458.30" y="258.93" width="4.63" height="9.64" fill="#de5238"/>
<rect x="462.53" y="258.93" width="4.63" height="9.64" fill="#d74b3f"/>
<rect x="466.77" y="258.93" width="4.63" height="9.64" fill="#da4e3c"/>
<rect x="471.00" y="258.93" width="4.63" height="9.64" fill="#d34743"/>
<rect x="475.23" y="258.93" width="4.63" height="9.64" fill="#d54a41"/>
<rect x="479.47" y="258.93" width="4.63" height="9.64" fill="#ce4347"/>
<rect x="483.70" y="258.93" width="4.63" height="9.64" fill="#cf4446"/>
<rect x="487.93" y="258.93" width="4.63" height="9.64" fill="#c63d4d"/>
<rect x="492.17" y="258.93" width="4.63" height="9.64" fill="#c73e4c"/>
<rect x="496.40" y="258.93" width="8.87" height="9.64" fill="#bc3754"/>
<rect x="504.87" y="258.93" width="4.63" height="9.64" fill="#b1325a"/>
<rect x="509.10" y="258.93" width="4.63" height="9.64" fill="#b0315b"/>
<rect x="513.33" y="258.93" width="4.63" height="9.64" fill="#a32c61"/>
<rect x="517.57" y="258.93" width="4.63" height="9.64" fill="#a02a63"/>
<rect x="521.80" y="258.93" width="4.63" height="9.64" fill="#922568"/>
<rect x="526.03" y="258.93" width="4.63" height="9.64" fill="#8f2469"/>
<rect x="530.27" y="258.93" width="4.63" height="9.64" fill="#801f6c"/>
<rect x="534.50" y="258.93" width="4.63" height="9.64" fill="#7a1d6d"/>
<rect x="538.73" y="258.93" width="4.63" height="9.64" fill="#6c186e"/>
<rect x="542.97" y="258.93" width="4.63" height="9.64" fill="#65156e"/>
<rect x="547.20" y="258.93" width="4.63" height="9.64" fill="#57106e"/>
<rect x="551.43" y="258.93" width="4.63" height="9.64" fill="#4d0d6c"/>
<rect x="555.67" y="258.93" width="4.63" height="9.64" fill="#3e0966"/>
<rect x="559.90" y="258.93" width="4.63" height="9.64" fill="#320a5e"/>
<rect x="564.13" y="258.93" width="4.63" height="9.64" fill="#210c4a"/>
<rect x="568.37" y="258.93" width="4.63" height="9.64" fill="#0e092b"/>
<rect x="572.60" y="258.93" width="4.63" height="9.64" fill="#040312"/>
<rect x="576.83" y="258.93" width="4.63" height="9.64" fill="#010106"/>
<rect x="581.07" y="258.93" width="93.53" height="9.64" fill="#000004"/>
<rect x="420.20" y="249.70" width="4.63" height="9.64" fill="#d84c3e"/>
<rect x="424.43" y="249.70" width="4.63" height="9.64" fill="#de5238"/>
<rect x="428.67" y="249.70" width="4.63" height="9.64" fill="#d84c3e"/>
<rect x="432.90" y="249.70" width="4.63" height="9.64" fill="#de5238"/>
<rect x="437.13" y="249.70" width="4.63" height="9.64" fill="#d84c3e"/>
<rect x="441.37" y="249.70" width="4.63" height="9.64" fill="#dd513a"/>
<rect x="445.60" y="249.70" width="4.63" height="9.64" fill="#d84c3e"/>
<rect x="449.83" y="249.70" width="4.63" height="9.64" fill="#dd513a"/>
<rect x="454.07" y="249.70" width="4.63" height="9.64" fill="#d54a41"/>
<rect x="458.30" y="249.70" width="4.63" height="9.64" fill="#da4e3c"/>
<rect x="462.53" y="249.70" width="4.63" height="9.64" fill="#d34743"/>
<rect x="466.77" y="249.70" width="4.63" height="9.64" fill="#d74b3f"/>
<rect x="471.00" y="249.70" width="4.63" height="9.64" fill="#cf4446"/>
<rect x="475.23" y="249.70" width="4.63" height="9.64" fill="#d24644"/>
<rect x="479.47" y="249.70" width="4.63" height="9.64" fill="#c83f4b"/>
<rect x="483.70" y="249.70" width="4.63" height="9.64" fill="#cb4149"/>
<rect x="487.93" y="249.70" width="4.63" height="9.64" fill="#c13a50"/>
<rect x="492.17" y="249.70" width="4.63" height="9.64" fill="#c33b4f"/>
<rect x="496.40" y="249.70" width="8.87" height="9.64" fill="#b93556"/>
<rect x="504.87" y="249.70" width="4.63" height="9.64" fill="#ae305c"/>
<rect x="509.10" y="249.70" width="4.63" height="9.64" fill="#ad305d"/>
<rect x="513.33" y="249.70" width="4.63" height="9.64" fill="#a02a63"/>
<rect x="517.57" y="249.70" width="4.63" height="9.64" fill="#9f2a63"/>
<rect x="521.80" y="249.70" width="4.63" height="9.64" fill="#922568"/>
<rect x="526.03" y="249.70" width="4.63" height="9.64" fill="#8f2469"/>
<rect x="530.27" y="249.70" width="4.63" height="9.64" fill="#82206c"/>
<rect x="534.50" y="249.70" width="4.63" height="9.64" fill="#7d1e6d"/>
<rect x="538.73" y="249.70" width="4.63" height="9.64" fill="#71196e"/>
<rect x="542.97" y="249.70" width="4.63" height="9.64" fill="#6a176e"/>
<rect x="547.20" y="249.70" width="4.63" height="9.64" fill="#5d126e"/>
<rect x="551.43" y="249.70" width="4.63" height="9.64" fill="#550f6d"/>
<rect x="555.67" y="249.70" width="4.63" height="9.64" fill="#490b6a"/>
<rect x="559.90" y="249.70" width="4.63" height="9.64" fill="#400a67"/>
<rect x="564.13" y="249.70" width="4.63" height="9.64" fill="#310a5c"/>
<rect x="568.37" y="249.70" width="4.63" height="9.64" fill="#260c51"/>
<rect x="572.60" y="249.70" width="4.63" height="9.64" fill="#120a32"/>
<rect x="576.83" y="249.70" width="4.63" height="9.64" fill="#07051b"/>
<rect x="581.07" y="249.70" width="4.63" height="9.64" fill="#02010a"/>
<rect x="585.30" y="249.70" width="89.30" height="9.64" fill="#000004"/>
<rect x="420.20" y="240.46" width="4.63" height="9.64" fill="#d54a41"/>
<rect x="424.43" y="240.46" width="4.63" height="9.64" fill="#db503b"/>
<rect x="428.67" y="240.46" width="4.63" height="9.64" fill="#d54a41"/>
<rect x="432.90" y="240.46" width="4.63" height="9.64" fill="#db503b"/>
<rect x="437.13" y="240.46" width="4.63" height="9.64" fill="#d54a41"/>
<rect x="441.37" y="240.46" width="4.63" height="9.64" fill="#da4e3c"/>
<rect x="445.60" y="240.46" width="4.63" height="9.64" fill="#d44842"/>
<rect x="449.83" y="240.46" width="4.63" height="9.64" fill="#d94d3d"/>
<rect x="454.07" y="240.46" width="4.63" height="9.64" fill="#d24644"/>
<rect x="458.30" y="240.46" width="4.63" height="9.64" fill="#d74b3f"/>
<rect x="462.53" y="240.46" width="4.63" height="9.64" fill="#cf4446"/>
<rect x="466.77" y="240.46" width="4.63" height="9.64" fill="#d34743"/>
<rect x="471.00" y="240.46" width="4.63" height="9.64" fill="#ca404a"/>
<rect x="475.23" y="240.46" width="4.63" height="9.64" fill="#ce4347"/>
<rect x="479.47" y="240.46" width="4.63" height="9.64" fill="#c43c4e"/>
<rect x="483.70" y="240.46" width="4.63" height="9.64" fill="#c73e4c"/>
<rect x="487.93" y="240.46" width="4.63" height="9.64" fill="#bd3853"/>
<rect x="492.17" y="240.46" width="4.63" height="9.64" fill="#bf3952"/>
<rect x="496.40" y="240.46" width="4.63" height="9.64" fill="#b43359"/>
<rect x="500.63" y="240.46" width="4.63" height="9.64" fill="#b63458"/>
<rect x="504.87" y="240.46" width="8.87" height="9.64" fill="#ab2f5e"/>
<rect x="513.33" y="240.46" width="4.63" height="9.64" fill="#9f2a63"/>
<rect x="517.57" y="240.46" width="4.63" height="9.64" fill="#9d2964"/>
<rect x="521.80" y="240.46" width="4.63" height="9.64" fill="#922568"/>
<rect x="526.03" y="240.46" width="4.63" height="9.64" fill="#8f2469"/>
<rect x="530.27" y="240.46" width="4.63" height="9.64" fill="#84206b"/>
<rect x="534.50" y="240.46" width="4.63" height="9.64" fill="#801f6c"/>
<rect x="538.73" y="240.46" width="4.63" height="9.64" fill="#741a6e"/>
<rect x="542.97" y="240.46" width="4.63" height="9.64" fill="#6f196e"/>
<rect x="547.20" y="240.46" width="4.63" height="9.64" fill="#62146e"/>
<rect x="551.43" y="240.46" width="4.63" height="9.64" fill="#5d126e"/>
<rect x="555.67" y="240.46" width="4.63" height="9.64" fill="#510e6c"/>
<rect x="559.90" y="240.46" width="4.63" height="9.64" fill="#490b6a"/>
<rect x="564.13" y="240.46" width="4.63" height="9.64" fill="#3b0964"/>
<rect x="568.37" y="240.46" width="4.63" height="9.64" fill="#320a5e"/>
<rect x="572.60" y="240.46" width="4.63" height="9.64" fill="#240c4f"/>
<rect x="576.83" y="240.46" width="4.63" height="9.64" fill="#150b37"/>
<rect x="581.07" y="240.46" width="4.63" height="9.64" fill="#09061f"/>
<rect x="585.30" y="240.46" width="4.63" height="9.64" fill="#02020e"/>
<rect x="589.53" y="240.46" width="4.63" height="9.64" fill="#010005"/>
<rect x="593.77" y="240.46" width="80.83" height="9.64" fill="#000004"/>
<rect x="420.20" y="231.22" width="4.63" height="9.64" fill="#d34743"/>
<rect x="424.43" y="231.22" width="4.63" height="9.64" fill="#d94d3d"/>
<rect x="428.67" y="231.22" width="4.63" height="9.64" fill="#d34743"/>
<rect x="432.90" y="231.22" width="4.63" height="9.64" fill="#d94d3d"/>
<rect x="437.13" y="231.22" width="4.63" height="9.64" fill="#d34743"/>
<rect x="441.37" y="231.22" width="4.63" height="9.64" fill="#d84c3e"/>
<rect x="445.60" y="231.22" width="4.63" height="9.64" fill="#d04545"/>
<rect x="449.83" y="231.22" width="4.63" height="9.64" fill="#d54a41"/>
<rect x="454.07" y="231.22" width="4.63" height="9.64" fill="#ce4347"/>
<rect x="458.30" y="231.22" width="4.63" height="9.64" fill="#d24644"/>
<rect x="462.53" y="231.22" width="4.63" height="9.64" fill="#cb4149"/>
<rect x="466.77" y="231.22" width="4.63" height="9.64" fill="#ce4347"/>
<rect x="471.00" y="231.22" width="4.63" height="9.64" fill="#c63d4d"/>
<rect x="475.23" y="231.22" width="4.63" height="9.64" fill="#c83f4b"/>
<rect x="479.47" y="231.22" width="4.63" height="9.64" fill="#c03a51"/>
<rect x="483.70" y="231.22" width="4.63" height="9.64" fill="#c33b4f"/>
<rect x="487.93" y="231.22" width="4.63" height="9.64" fill="#b93556"/>
<rect x="492.17" y="231.22" width="4.63" height="9.64" fill="#bc3754"/>
<rect x="496.40" y="231.22" width="4.63" height="9.64" fill="#b1325a"/>
<rect x="500.63" y="231.22" width="4.63" height="9.64" fill="#b3325a"/>
<rect x="504.87" y="231.22" width="8.87" height="9.64" fill="#a82e5f"/>
<rect x="513.33" y="231.22" width="4.63" height="9.64" fill="#9d2964"/>
<rect x="517.57" y="231.22" width="4.63" height="9.64" fill="#9b2964"/>
<rect x="521.80" y="231.22" width="4.63" height="9.64" fill="#902568"/>
<rect x="526.03" y="231.22" width="4.63" height="9.64" fill="#8f2469"/>
<rect x="530.27" y="231.22" width="4.63" height="9.64" fill="#84206b"/>
<rect x="534.50" y="231.22" width="4.63" height="9.64" fill="#801f6c"/>
<rect x="538.73" y="231.22" width="4.63" height="9.64" fill="#751b6e"/>
<rect x="542.97" y="231.22" width="4.63" height="9.64" fill="#721a6e"/>
<rect x="547.20" y="231.22" width="4.63" height="9.64" fill="#65156e"/>
<rect x="551.43" y="231.22" width="4.63" height="9.64" fill="#61136e"/>
<rect x="555.67" y="231.22" width="4.63" height="9.64" fill="#550f6d"/>
<rect x="559.90" y="231.22" width="4.63" height="9.64" fill="#4f0d6c"/>
<rect x="564.13" y="231.22" width="4.63" height="9.64" fill="#440a68"/>
<rect x="568.37" y="231.22" width="4.63" height="9.64" fill="#3d0965"/>
<rect x="572.60" y="231.22" width="4.63" height="9.64" fill="#2f0a5b"/>
<rect x="576.83" y="231.22" width="4.63" height="9.64" fill="#260c51"/>
<rect x="581.07" y="231.22" width="4.63" height="9.64" fill="#160b39"/>
<rect x="585.30" y="231.22" width="4.63" height="9.64" fill="#0b0724"/>
<rect x="589.53" y="231.22" width="4.63" height="9.64" fill="#040312"/>
<rect x="593.77" y="231.22" width="4.63" height="9.64" fill="#010108"/>
<rect x="598.00" y="231.22" width="76.60" height="9.64" fill="#000004"/>
<rect x="420.20" y="221.99" width="4.63" height="9.64" fill="#d24644"/>
<rect x="424.43" y="221.99" width="4.63" height="9.64" fill="#d74b3f"/>
<rect x="428.67" y="221.99" width="4.63" height="9.64" fill="#d04545"/>
<rect x="432.90" y="221.99" width="4.63" height="9.64" fill="#d54a41"/>
<rect x="437.13" y="221.99" width="4.63" height="9.64" fill="#cf4446"/>
<rect x="441.37" y="221.99" width="4.63" height="9.64" fill="#d44842"/>
<rect x="445.60" y="221.99" width="4.63" height="9.64" fill="#ce4347"/>
<rect x="449.83" y="221.99" width="4.63" height="9.64" fill="#d24644"/>
<rect x="454.07" y="221.99" width="4.63" height="9.64" fill="#ca404a"/>
<rect x="458.30" y="221.99" width="4.63" height="9.64" fill="#ce4347"/>
<rect x="462.53" y="221.99" width="4.63" height="9.64" fill="#c73e4c"/>
<rect x="466.77" y="221.99" width="4.63" height="9.64" fill="#ca404a"/>
<rect x="471.00" y="221.99" width="4.63" height="9.64" fill="#c13a50"/>
<rect x="475.23" y="221.99" width="4.63" height="9.64" fill="#c43c4e"/>
<rect x="479.47" y="221.99" width="4.63" height="9.64" fill="#bc3754"/>
<rect x="483.70" y="221.99" width="4.63" height="9.64" fill="#bf3952"/>
<rect x="487.93" y="221.99" width="4.63" height="9.64" fill="#b63458"/>
<rect x="492.17" y="221.99" width="4.63" height="9.64" fill="#b73557"/>
<rect x="496.40" y="221.99" width="8.87" height="9.64" fill="#ae305c"/>
<rect x="504.87" y="221.99" width="8.87" height="9.64" fill="#a52c60"/>
<rect x="513.33" y="221.99" width="8.87" height="9.64" fill="#9a2865"/>
<rect x="521.80" y="221.99" width="4.63" height="9.64" fill="#902568"/>
<rect x="526.03" y="221.99" width="4.63" height="9.64" fill="#8f2469"/>
<rect x="530.27" y="221.99" width="4.63" height="9.64" fill="#84206b"/>
<rect x="534.50" y="221.99" width="4.63" height="9.64" fill="#82206c"/>
<rect x="538.73" y="221.99" width="4.63" height="9.64" fill="#771c6d"/>
<rect x="542.97" y="221.99" width="4.63" height="9.64" fill="#741a6e"/>
<rect x="547.20" y="221.99" width="4.63" height="9.64" fill="#69166e"/>
<rect x="551.43" y="221.99" width="4.63" height="9.64" fill="#65156e"/>
<rect x="555.67" y="221.99" width="4.63" height="9.64" fill="#5a116e"/>
<rect x="559.90" y="221.99" width="4.63" height="9.64" fill="#550f6d"/>
<rect x="564.13" y="221.99" width="4.63" height="9.64" fill="#4a0c6b"/>
<rect x="568.37" y="221.99" width="4.63" height="9.64" fill="#440a68"/>
<rect x="572.60" y="221.99" width="4.63" height="9.64" fill="#380962"/>
<rect x="576.83" y="221.99" width="4.63" height="9.64" fill="#310a5c"/>
<rect x="581.07" y="221.99" width="4.63" height="9.64" fill="#240c4f"/>
<rect x="585.30" y="221.99" width="4.63" height="9.64" fill="#190c3e"/>
<rect x="589.53" y="221.99" width="4.63" height="9.64" fill="#0c0826"/>
<rect x="593.77" y="221.99" width="4.63" height="9.64" fill="#050417"/>
<rect x="598.00" y="221.99" width="4.63" height="9.64" fill="#02010a"/>
<rect x="602.23" y="221.99" width="4.63" height="9.64" fill="#010005"/>
<rect x="606.47" y="221.99" width="68.13" height="9.64" fill="#000004"/>
<rect x="420.20" y="212.75" width="4.63" height="9.64" fill="#c63d4d"/>
<rect x="424.43" y="212.75" width="4.63" height="9.64" fill="#cb4149"/>
<rect x="428.67" y="212.75" width="4.63" height="9.64" fill="#c43c4e"/>
<rect x="432.90" y="212.75" width="4.63" height="9.64" fill="#ca404a"/>
<rect x="437.13" y="212.75" width="4.63" height="9.64" fill="#c33b4f"/>
<rect x="441.37" y="212.75" width="4.63" height="9.64" fill="#c73e4c"/>
<rect x="445.60" y="212.75" width="4.63" height="9.64" fill="#c03a51"/>
<rect x="449.83" y="212.75" width="4.63" height="9.64" fill="#c43c4e"/>
<rect x="454.07" y="212.75" width="4.63" height="9.64" fill="#bd3853"/>
<rect x="458.30" y="212.75" width="4.63" height="9.64" fill="#c03a51"/>
<rect x="462.53" y="212.75" width="4.63" height="9.64" fill="#b93556"/>
<rect x="466.77" y="212.75" width="4.63" height="9.64" fill="#bc3754"/>
<rect x="471.00" y="212.75" width="4.63" height="9.64" fill="#b3325a"/>
<rect x="475.23" y="212.75" width="4.63" height="9.64" fill="#b63458"/>
<rect x="479.47" y="212.75" width="4.63" height="9.64" fill="#ae305c"/>
<rect x="483.70" y="212.75" width="4.63" height="9.64" fill="#b0315b"/>
<rect x="487.93" y="212.75" width="4.63" height="9.64" fill="#a62d60"/>
<rect x="492.17" y="212.75" width="4.63" height="9.64" fill="#a82e5f"/>
<rect x="496.40" y="212.75" width="4.63" height="9.64" fill="#9f2a63"/>
<rect x="500.63" y="212.75" width="4.63" height="9.64" fill="#a02a63"/>
<rect x="504.87" y="212.75" width="4.63" height="9.64" fill="#972766"/>
<rect x="509.10" y="212.75" width="4.63" height="9.64" fill="#982766"/>
<rect x="513.33" y="212.75" width="4.63" height="9.64" fill="#8f2469"/>
<rect x="517.57" y="212.75" width="4.63" height="9.64" fill="#8d2369"/>
<rect x="521.80" y="212.75" width="8.87" height="9.64" fill="#84206b"/>
<rect x="530.27" y="212.75" width="4.63" height="9.64" fill="#7a1d6d"/>
<rect x="534.50" y="212.75" width="4.63" height="9.64" fill="#781c6d"/>
<rect x="538.73" y="212.75" width="4.63" height="9.64" fill="#6f196e"/>
<rect x="542.97" y="212.75" width="4.63" height="9.64" fill="#6c186e"/>
<rect x="547.20" y="212.75" width="4.63" height="9.64" fill="#62146e"/>
<rect x="551.43" y="212.75" width="4.63" height="9.64" fill="#5f136e"/>
<rect x="555.67" y="212.75" width="4.63" height="9.64" fill="#550f6d"/>
<rect x="559.90" y="212.75" width="4.63" height="9.64" fill="#520e6d"/>
<rect x="564.13" y="212.75" width="4.63" height="9.64" fill="#490b6a"/>
<rect x="568.37" y="212.75" width="4.63" height="9.64" fill="#440a68"/>
<rect x="572.60" y="212.75" width="4.63" height="9.64" fill="#390963"/>
<rect x="576.83" y="212.75" width="4.63" height="9.64" fill="#340a5f"/>
<rect x="581.07" y="212.75" width="4.63" height="9.64" fill="#290b55"/>
<rect x="585.30" y="212.75" width="4.63" height="9.64" fill="#230c4c"/>
<rect x="589.53" y="212.75" width="4.63" height="9.64" fill="#180c3c"/>
<rect x="593.77" y="212.75" width="4.63" height="9.64" fill="#0d0829"/>
<rect x="598.00" y="212.75" width="4.63" height="9.64" fill="#060419"/>
<rect x="602.23" y="212.75" width="4.63" height="9.64" fill="#02020e"/>
<rect x="606.47" y="212.75" width="4.63" height="9.64" fill="#010106"/>
<rect x="610.70" y="212.75" width="63.90" height="9.64" fill="#000004"/>
<rect x="420.20" y="203.51" width="4.63" height="9.64" fill="#b93556"/>
<rect x="424.43" y="203.51" width="4.63" height="9.64" fill="#bf3952"/>
<rect x="428.67" y="203.51" width="4.63" height="9.64" fill="#b73557"/>
<rect x="432.90" y="203.51" width="4.63" height="9.64" fill="#bc3754"/>
<rect x="437.13" y="203.51" width="4.63" height="9.64" fill="#b43359"/>
<rect x="441.37" y="203.51" width="4.63" height="9.64" fill="#b93556"/>
<rect x="445.60" y="203.51" width="4.63" height="9.64" fill="#b1325a"/>
<rect x="449.83" y="203.51" width="4.63" height="9.64" fill="#b63458"/>
<rect x="454.07" y="203.51" width="4.63" height="9.64" fill="#ae305c"/>
<rect x="458.30" y="203.51" width="4.63" height="9.64" fill="#b1325a"/>
<rect x="462.53" y="203.51" width="4.63" height="9.64" fill="#a92e5e"/>
<rect x="466.77" y="203.51" width="4.63" height="9.64" fill="#ad305d"/>
<rect x="471.00" y="203.51" width="4.63" height="9.64" fill="#a52c60"/>
<rect x="475.23" y="203.51" width="4.63" height="9.64" fill="#a62d60"/>
<rect x="479.47" y="203.51" width="4.63" height="9.64" fill="#9f2a63"/>
<rect x="483.70" y="203.51" width="4.63" height="9.64" fill="#a02a63"/>
<rect x="487.93" y="203.51" width="4.63" height="9.64" fill="#982766"/>
<rect x="492.17" y="203.51" width="4.63" height="9.64" fill="#9a2865"/>
<rect x="496.40" y="203.51" width="8.87" height="9.64" fill="#922568"/>
<rect x="504.87" y="203.51" width="8.87" height="9.64" fill="#8a226a"/>
<rect x="513.33" y="203.51" width="8.87" height="9.64" fill="#82206c"/>
<rect x="521.80" y="203.51" width="8.87" height="9.64" fill="#781c6d"/>
<rect x="530.27" y="203.51" width="4.63" height="9.64" fill="#71196e"/>
<rect x="534.50" y="203.51" width="4.63" height="9.64" fill="#6f196e"/>
<rect x="538.73" y="203.51" width="4.63" height="9.64" fill="#65156e"/>
<rect x="542.97" y="203.51" width="4.63" height="9.64" fill="#64156e"/>
<rect x="547.20" y="203.51" width="4.63" height="9.64" fill="#5c126e"/>
<rect x="551.43" y="203.51" width="4.63" height="9.64" fill="#5a116e"/>
<rect x="555.67" y="203.51" width="4.63" height="9.64" fill="#510e6c"/>
<rect x="559.90" y="203.51" width="4.63" height="9.64" fill="#4d0d6c"/>
<rect x="564.13" y="203.51" width="4.63" height="9.64" fill="#450a69"/>
<rect x="568.37" y="203.51" width="4.63" height="9.64" fill="#420a68"/>
<rect x="572.60" y="203.51" width="4.63" height="9.64" fill="#390963"/>
<rect x="576.83" y="203.51" width="4.63" height="9.64" fill="#340a5f"/>
<rect x="581.07" y="203.51" width="4.63" height="9.64" fill="#2b0b57"/>
<rect x="585.30" y="203.51" width="4.63" height="9.64" fill="#260c51"/>
<rect x="589.53" y="203.51" width="4.63" height="9.64" fill="#1e0c45"/>
<rect x="593.77" y="203.51" width="4.63" height="9.64" fill="#160b39"/>
<rect x="598.00" y="203.51" width="4.63" height="9.64" fill="#0d0829"/>
<rect x="602.23" y="203.51" width="4.63" height="9.64" fill="#07051b"/>
<rect x="606.47" y="203.51" width="4.63" height="9.64" fill="#030210"/>
<rect x="610.70" y="203.51" width="4.63" height="9.64" fill="#010108"/>
<rect x="614.93" y="203.51" width="59.67" height="9.64" fill="#000004"/>
<rect x="420.20" y="194.28" width="4.63" height="9.64" fill="#ab2f5e"/>
<rect x="424.43" y="194.28" width="4.63" height="9.64" fill="#b0315b"/>
<rect x="428.67" y="194.28" width="4.63" height="9.64" fill="#a92e5e"/>
<rect x="432.90" y="194.28" width="4.63" height="9.64" fill="#ad305d"/>
<rect x="437.13" y="194.28" width="4.63" height="9.64" fill="#a62d60"/>
<rect x="441.37" y="194.28" width="4.63" height="9.64" fill="#a92e5e"/>
<rect x="445.60" y="194.28" width="4.63" height="9.64" fill="#a32c61"/>
<rect x="449.83" y="194.28" width="4.63" height="9.64" fill="#a62d60"/>
<rect x="454.07" y="194.28" width="4.63" height="9.64" fill="#9f2a63"/>
<rect x="458.30" y="194.28" width="4.63" height="9.64" fill="#a22b62"/>
<rect x="462.53" y="194.28" width="4.63" height="9.64" fill="#9a2865"/>
<rect x="466.77" y="194.28" width="4.63" height="9.64" fill="#9d2964"/>
<rect x="471.00" y="194.28" width="4.63" height="9.64" fill="#952667"/>
<rect x="475.23" y="194.28" width="4.63" height="9.64" fill="#982766"/>
<rect x="479.47" y="194.28" width="4.63" height="9.64" fill="#902568"/>
<rect x="483.70" y="194.28" width="4.63" height="9.64" fill="#922568"/>
<rect x="487.93" y="194.28" width="4.63" height="9.64" fill="#8a226a"/>
<rect x="492.17" y="194.28" width="4.63" height="9.64" fill="#8c2369"/>
<rect x="496.40" y="194.28" width="4.63" height="9.64" fill="#84206b"/>
<rect x="500.63" y="194.28" width="4.63" height="9.64" fill="#85216b"/>
<rect x="504.87" y="194.28" width="8.87" height="9.64" fill="#7d1e6d"/>
<rect x="513.33" y="194.28" width="8.87" height="9.64" fill="#751b6e"/>
<rect x="521.80" y="194.28" width="8.87" height="9.64" fill="#6d186e"/>
<rect x="530.27" y="194.28" width="8.87" height="9.64" fill="#65156e"/>
<rect x="538.73" y="194.28" width="4.63" height="9.64" fill="#5d126e"/>
<rect x="542.97" y="194.28" width="4.63" height="9.64" fill="#5c126e"/>
<rect x="547.20" y="194.28" width="4.63" height="9.64" fill="#540f6d"/>
<rect x="551.43" y="194.28" width="4.63" height="9.64" fill="#520e6d"/>
<rect x="555.67" y="194.28" width="4.63" height="9.64" fill="#4c0c6b"/>
<rect x="559.90" y="194.28" width="4.63" height="9.64" fill="#490b6a"/>
<rect x="564.13" y="194.28" width="4.63" height="9.64" fill="#400a67"/>
<rect x="568.37" y="194.28" width="4.63" height="9.64" fill="#3e0966"/>
<rect x="572.60" y="194.28" width="4.63" height="9.64" fill="#360961"/>
<rect x="576.83" y="194.28" width="4.63" height="9.64" fill="#320a5e"/>
<rect x="581.07" y="194.28" width="4.63" height="9.64" fill="#2b0b57"/>
<rect x="585.30" y="194.28" width="4.63" height="9.64" fill="#260c51"/>
<rect x="589.53" y="194.28" width="4.63" height="9.64" fill="#1f0c48"/>
<rect x="593.77" y="194.28" width="4.63" height="9.64" fill="#1b0c41"/>
<rect x="598.00" y="194.28" width="4.63" height="9.64" fill="#150b37"/>
<rect x="602.23" y="194.28" width="4.63" height="9.64" fill="#0d0829"/>
<rect x="606.47" y="194.28" width="4.63" height="9.64" fill="#08051d"/>
<rect x="610.70" y="194.28" width="4.63" height="9.64" fill="#040312"/>
<rect x="614.93" y="194.28" width="4.63" height="9.64" fill="#02010a"/>
<rect x="619.17" y="194.28" width="4.63" height="9.64" fill="#010106"/>
<rect x="623.40" y="194.28" width="51.20" height="9.64" fill="#010005"/>
<rect x="420.20" y="185.04" width="4.63" height="9.64" fill="#9d2964"/>
<rect x="424.43" y="185.04" width="4.63" height="9.64" fill="#a22b62"/>
<rect x="428.67" y="185.04" width="4.63" height="9.64" fill="#9a2865"/>
<rect x="432.90" y="185.04" width="4.63" height="9.64" fill="#9f2a63"/>
<rect x="437.13" y="185.04" width="4.63" height="9.64" fill="#972766"/>
<rect x="441.37" y="185.04" width="4.63" height="9.64" fill="#9b2964"/>
<rect x="445.60" y="185.04" width="4.63" height="9.64" fill="#932667"/>
<rect x="449.83" y="185.04" width="4.63" height="9.64" fill="#972766"/>
<rect x="454.07" y="185.04" width="4.63" height="9.64" fill="#902568"/>
<rect x="458.30" y="185.04" width="4.63" height="9.64" fill="#922568"/>
<rect x="462.53" y="185.04" width="4.63" height="9.64" fill="#8c2369"/>
<rect x="466.77" y="185.04" width="4.63" height="9.64" fill="#8d2369"/>
<rect x="471.00" y="185.04" width="4.63" height="9.64" fill="#87216b"/>
<rect x="475.23" y="185.04" width="4.63" height="9.64" fill="#88226a"/>
<rect x="479.47" y="185.04" width="4.63" height="9.64" fill="#82206c"/>
<rect x="483.70" y="185.04" width="4.63" height="9.64" fill="#84206b"/>
<rect x="487.93" y="185.04" width="4.63" height="9.64" fill="#7c1d6d"/>
<rect x="492.17" y="185.04" width="4.63" height="9.64" fill="#7d1e6d"/>
<rect x="496.40" y="185.04" width="8.87" height="9.64" fill="#771c6d"/>
<rect x="504.87" y="185.04" width="8.87" height="9.64" fill="#71196e"/>
<rect x="513.33" y="185.04" width="8.87" height="9.64" fill="#6a176e"/>
<rect x="521.80" y="185.04" width="8.87" height="9.64" fill="#64156e"/>
<rect x="530.27" y="185.04" width="8.87" height="9.64" fill="#5c126e"/>
<rect x="538.73" y="185.04" width="4.63" height="9.64" fill="#550f6d"/>
<rect x="542.97" y="185.04" width="4.63" height="9.64" fill="#540f6d"/>
<rect x="547.20" y="185.04" width="4.63" height="9.64" fill="#4d0d6c"/>
<rect x="551.43" y="185.04" width="4.63" height="9.64" fill="#4c0c6b"/>
<rect x="555.67" y="185.04" width="4.63" height="9.64" fill="#450a69"/>
<rect x="559.90" y="185.04" width="4.63" height="9.64" fill="#440a68"/>
<rect x="564.13" y="185.04" width="4.63" height="9.64" fill="#3d0965"/>
<rect x="568.37" y="185.04" width="4.63" height="9.64" fill="#390963"/>
<rect x="572.60" y="185.04" width="4.63" height="9.64" fill="#320a5e"/>
<rect x="576.83" y="185.04" width="4.63" height="9.64" fill="#310a5c"/>
<rect x="581.07" y="185.04" width="4.63" height="9.64" fill="#290b55"/>
<rect x="585.30" y="185.04" width="4.63" height="9.64" fill="#260c51"/>
<rect x="589.53" y="185.04" width="4.63" height="9.64" fill="#1f0c48"/>
<rect x="593.77" y="185.04" width="4.63" height="9.64" fill="#1c0c43"/>
<rect x="598.00" y="185.04" width="4.63" height="9.64" fill="#160b39"/>
<rect x="602.23" y="185.04" width="4.63" height="9.64" fill="#140b34"/>
<rect x="606.47" y="185.04" width="4.63" height="9.64" fill="#0c0826"/>
<rect x="610.70" y="185.04" width="4.63" height="9.64" fill="#08051d"/>
<rect x="614.93" y="185.04" width="4.63" height="9.64" fill="#040314"/>
<rect x="619.17" y="185.04" width="4.63" height="9.64" fill="#02020c"/>
<rect x="623.40" y="185.04" width="51.20" height="9.64" fill="#010106"/>
<rect x="420.20" y="175.80" width="4.63" height="9.64" fill="#8f2469"/>
<rect x="424.43" y="175.80" width="4.63" height="9.64" fill="#922568"/>
<rect x="428.67" y="175.80" width="4.63" height="9.64" fill="#8c2369"/>
<rect x="432.90" y="175.80" width="4.63" height="9.64" fill="#8f2469"/>
<rect x="437.13" y="175.80" width="4.63" height="9.64" fill="#88226a"/>
<rect x="441.37" y="175.80" width="4.63" height="9.64" fill="#8c2369"/>
<rect x="445.60" y="175.80" width="4.63" height="9.64" fill="#85216b"/>
<rect x="449.83" y="175.80" width="4.63" height="9.64" fill="#88226a"/>
<rect x="454.07" y="175.80" width="4.63" height="9.64" fill="#82206c"/>
<rect x="458.30" y="175.80" width="4.63" height="9.64" fill="#84206b"/>
<rect x="462.53" y="175.80" width="4.63" height="9.64" fill="#7d1e6d"/>
<rect x="466.77" y="175.80" width="4.63" height="9.64" fill="#801f6c"/>
<rect x="471.00" y="175.80" width="4.63" height="9.64" fill="#7a1d6d"/>
<rect x="475.23" y="175.80" width="4.63" height="9.64" fill="#7c1d6d"/>
<rect x="479.47" y="175.80" width="4.63" height="9.64" fill="#751b6e"/>
<rect x="483.70" y="175.80" width="4.63" height="9.64" fill="#771c6d"/>
<rect x="487.93" y="175.80" width="8.87" height="9.64" fill="#71196e"/>
<rect x="496.40" y="175.80" width="4.63" height="9.64" fill="#6a176e"/>
<rect x="500.63" y="175.80" width="4.63" height="9.64" fill="#6c186e"/>
<rect x="504.87" y="175.80" width="8.87" height="9.64" fill="#65156e"/>
<rect x="513.33" y="175.80" width="4.63" height="9.64" fill="#5f136e"/>
<rect x="517.57" y="175.80" width="4.63" height="9.64" fill="#61136e"/>
<rect x="521.80" y="175.80" width="8.87" height="9.64" fill="#5a116e"/>
<rect x="530.27" y="175.80" width="8.87" height="9.64" fill="#540f6d"/>
<rect x="538.73" y="175.80" width="4.63" height="9.64" fill="#4d0d6c"/>
<rect x="542.97" y="175.80" width="4.63" height="9.64" fill="#4c0c6b"/>
<rect x="547.20" y="175.80" width="4.63" height="9.64" fill="#470b6a"/>
<rect x="551.43" y="175.80" width="4.63" height="9.64" fill="#450a69"/>
<rect x="555.67" y="175.80" width="8.87" height="9.64" fill="#3e0966"/>
<rect x="564.13" y="175.80" width="4.63" height="9.64" fill="#380962"/>
<rect x="568.37" y="175.80" width="4.63" height="9.64" fill="#360961"/>
<rect x="572.60" y="175.80" width="4.63" height="9.64" fill="#2f0a5b"/>
<rect x="576.83" y="175.80" width="4.63" height="9.64" fill="#2d0b59"/>
<rect x="581.07" y="175.80" width="4.63" height="9.64" fill="#280b53"/>
<rect x="585.30" y="175.80" width="4.63" height="9.64" fill="#240c4f"/>
<rect x="589.53" y="175.80" width="4.63" height="9.64" fill="#1f0c48"/>
<rect x="593.77" y="175.80" width="4.63" height="9.64" fill="#1c0c43"/>
<rect x="598.00" y="175.80" width="4.63" height="9.64" fill="#180c3c"/>
<rect x="602.23" y="175.80" width="4.63" height="9.64" fill="#150b37"/>
<rect x="606.47" y="175.80" width="4.63" height="9.64" fill="#110a30"/>
<rect x="610.70" y="175.80" width="4.63" height="9.64" fill="#0e092b"/>
<rect x="614.93" y="175.80" width="4.63" height="9.64" fill="#09061f"/>
<rect x="619.17" y="175.80" width="4.63" height="9.64" fill="#050417"/>
<rect x="623.40" y="175.80" width="4.63" height="9.64" fill="#030210"/>
<rect x="627.63" y="175.80" width="4.63" height="9.64" fill="#02010a"/>
<rect x="631.87" y="175.80" width="42.73" height="9.64" fill="#010108"/>
<rect x="420.20" y="166.57" width="4.63" height="9.64" fill="#801f6c"/>
<rect x="424.43" y="166.57" width="4.63" height="9.64" fill="#84206b"/>
<rect x="428.67" y="166.57" width="4.63" height="9.64" fill="#7d1e6d"/>
<rect x="432.90" y="166.57" width="4.63" height="9.64" fill="#801f6c"/>
<rect x="437.13" y="166.57" width="4.63" height="9.64" fill="#7a1d6d"/>
<rect x="441.37" y="166.57" width="4.63" height="9.64" fill="#7d1e6d"/>
<rect x="445.60" y="166.57" width="4.63" height="9.64" fill="#771c6d"/>
<rect x="449.83" y="166.57" width="4.63" height="9.64" fill="#7a1d6d"/>
<rect x="454.07" y="166.57" width="4.63" height="9.64" fill="#741a6e"/>
<rect x="458.30" y="166.57" width="4.63" height="9.64" fill="#751b6e"/>
<rect x="462.53" y="166.57" width="4.63" height="9.64" fill="#71196e"/>
<rect x="466.77" y="166.57" width="4.63" height="9.64" fill="#721a6e"/>
<rect x="471.00" y="166.57" width="4.63" height="9.64" fill="#6c186e"/>
<rect x="475.23" y="166.57" width="4.63" height="9.64" fill="#6d186e"/>
<rect x="479.47" y="166.57" width="4.63" height="9.64" fill="#69166e"/>
<rect x="483.70" y="166.57" width="4.63" height="9.64" fill="#6a176e"/>
<rect x="487.93" y="166.57" width="4.63" height="9.64" fill="#64156e"/>
<rect x="492.17" y="166.57" width="4.63" height="9.64" fill="#65156e"/>
<rect x="496.40" y="166.57" width="4.63" height="9.64" fill="#5f136e"/>
<rect x="500.63" y="166.57" width="4.63" height="9.64" fill="#61136e"/>
<rect x="504.87" y="166.57" width="8.87" height="9.64" fill="#5a116e"/>
<rect x="513.33" y="166.57" width="8.87" height="9.64" fill="#550f6d"/>
<rect x="521.80" y="166.57" width="8.87" height="9.64" fill="#510e6c"/>
<rect x="530.27" y="166.57" width="8.87" height="9.64" fill="#4a0c6b"/>
<rect x="538.73" y="166.57" width="8.87" height="9.64" fill="#450a69"/>
<rect x="547.20" y="166.57" width="8.87" height="9.64" fill="#3e0966"/>
<rect x="555.67" y="166.57" width="4.63" height="9.64" fill="#390963"/>
<rect x="559.90" y="166.57" width="4.63" height="9.64" fill="#380962"/>
<rect x="564.13" y="166.57" width="4.63" height="9.64" fill="#320a5e"/>
<rect x="568.37" y="166.57" width="4.63" height="9.64" fill="#310a5c"/>
<rect x="572.60" y="166.57" width="4.63" height="9.64" fill="#2b0b57"/>
<rect x="576.83" y="166.57" width="4.63" height="9.64" fill="#290b55"/>
<rect x="581.07" y="166.57" width="4.63" height="9.64" fill="#240c4f"/>
<rect x="585.30" y="166.57" width="4.63" height="9.64" fill="#230c4c"/>
<rect x="589.53" y="166.57" width="4.63" height="9.64" fill="#1e0c45"/>
<rect x="593.77" y="166.57" width="4.63" height="9.64" fill="#1c0c43"/>
<rect x="598.00" y="166.57" width="4.63" height="9.64" fill="#180c3c"/>
<rect x="602.23" y="166.57" width="4.63" height="9.64" fill="#160b39"/>
<rect x="606.47" y="166.57" width="4.63" height="9.64" fill="#120a32"/>
<rect x="610.70" y="166.57" width="4.63" height="9.64" fill="#10092d"/>
<rect x="614.93" y="166.57" width="4.63" height="9.64" fill="#0d0829"/>
<rect x="619.17" y="166.57" width="4.63" height="9.64" fill="#0a0722"/>
<rect x="623.40" y="166.57" width="4.63" height="9.64" fill="#060419"/>
<rect x="627.63" y="166.57" width="4.63" height="9.64" fill="#040314"/>
<rect x="631.87" y="166.57" width="4.63" height="9.64" fill="#02020e"/>
<rect x="636.10" y="166.57" width="4.63" height="9.64" fill="#02010a"/>
<rect x="640.33" y="166.57" width="4.63" height="9.64" fill="#010108"/>
<rect x="644.57" y="166.57" width="4.63" height="9.64" fill="#02010a"/>
<rect x="648.80" y="166.57" width="4.63" height="9.64" fill="#010108"/>
<rect x="653.03" y="166.57" width="4.63" height="9.64" fill="#02010a"/>
<rect x="657.27" y="166.57" width="4.63" height="9.64" fill="#010108"/>
<rect x="661.50" y="166.57" width="4.63" height="9.64" fill="#02010a"/>
<rect x="665.73" y="166.57" width="4.63" height="9.64" fill="#010108"/>
<rect x="669.97" y="166.57" width="4.63" height="9.64" fill="#02010a"/>
<rect x="420.20" y="157.33" width="4.63" height="9.64" fill="#721a6e"/>
<rect x="424.43" y="157.33" width="4.63" height="9.64" fill="#751b6e"/>
<rect x="428.67" y="157.33" width="4.63" height="9.64" fill="#6f196e"/>
<rect x="432.90" y="157.33" width="4.63" height="9.64" fill="#721a6e"/>
<rect x="437.13" y="157.33" width="4.63" height="9.64" fill="#6c186e"/>
<rect x="441.37" y="157.33" width="4.63" height="9.64" fill="#6f196e"/>
<rect x="445.60" y="157.33" width="4.63" height="9.64" fill="#6a176e"/>
<rect x="449.83" y="157.33" width="4.63" height="9.64" fill="#6c186e"/>
<rect x="454.07" y="157.33" width="4.63" height="9.64" fill="#65156e"/>
<rect x="458.30" y="157.33" width="4.63" height="9.64" fill="#69166e"/>
<rect x="462.53" y="157.33" width="4.63" height="9.64" fill="#62146e"/>
<rect x="466.77" y="157.33" width="4.63" height="9.64" fill="#64156e"/>
<rect x="471.00" y="157.33" width="4.63" height="9.64" fill="#5f136e"/>
<rect x="475.23" y="157.33" width="4.63" height="9.64" fill="#61136e"/>
<rect x="479.47" y="157.33" width="8.87" height="9.64" fill="#5c126e"/>
<rect x="487.93" y="157.33" width="4.63" height="9.64" fill="#57106e"/>
<rect x="492.17" y="157.33" width="4.63" height="9.64" fill="#59106e"/>
<rect x="496.40" y="157.33" width="8.87" height="9.64" fill="#540f6d"/>
<rect x="504.87" y="157.33" width="4.63" height="9.64" fill="#4f0d6c"/>
<rect x="509.10" y="157.33" width="4.63" height="9.64" fill="#510e6c"/>
<rect x="513.33" y="157.33" width="4.63" height="9.64" fill="#4a0c6b"/>
<rect x="517.57" y="157.33" width="4.63" height="9.64" fill="#4c0c6b"/>
<rect x="521.80" y="157.33" width="8.87" height="9.64" fill="#470b6a"/>
<rect x="530.27" y="157.33" width="8.87" height="9.64" fill="#420a68"/>
<rect x="538.73" y="157.33" width="8.87" height="9.64" fill="#3d0965"/>
<rect x="547.20" y="157.33" width="8.87" height="9.64" fill="#380962"/>
<rect x="555.67" y="157.33" width="4.63" height="9.64" fill="#320a5e"/>
<rect x="559.90" y="157.33" width="4.63" height="9.64" fill="#310a5c"/>
<rect x="564.13" y="157.33" width="4.63" height="9.64" fill="#2d0b59"/>
<rect x="568.37" y="157.33" width="4.63" height="9.64" fill="#2b0b57"/>
<rect x="572.60" y="157.33" width="8.87" height="9.64" fill="#260c51"/>
<rect x="581.07" y="157.33" width="4.63" height="9.64" fill="#210c4a"/>
<rect x="585.30" y="157.33" width="4.63" height="9.64" fill="#1f0c48"/>
<rect x="589.53" y="157.33" width="4.63" height="9.64" fill="#1c0c43"/>
<rect x="593.77" y="157.33" width="4.63" height="9.64" fill="#1b0c41"/>
<rect x="598.00" y="157.33" width="4.63" height="9.64" fill="#160b39"/>
<rect x="602.23" y="157.33" width="4.63" height="9.64" fill="#150b37"/>
<rect x="606.47" y="157.33" width="4.63" height="9.64" fill="#120a32"/>
<rect x="610.70" y="157.33" width="4.63" height="9.64" fill="#110a30"/>
<rect x="614.93" y="157.33" width="4.63" height="9.64" fill="#0d0829"/>
<rect x="619.17" y="157.33" width="4.63" height="9.64" fill="#0c0826"/>
<rect x="623.40" y="157.33" width="4.63" height="9.64" fill="#0a0722"/>
<rect x="627.63" y="157.33" width="4.63" height="9.64" fill="#07051b"/>
<rect x="631.87" y="157.33" width="4.63" height="9.64" fill="#040314"/>
<rect x="636.10" y="157.33" width="4.63" height="9.64" fill="#030210"/>
<rect x="640.33" y="157.33" width="4.63" height="9.64" fill="#02010a"/>
<rect x="644.57" y="157.33" width="4.63" height="9.64" fill="#02020c"/>
<rect x="648.80" y="157.33" width="4.63" height="9.64" fill="#02010a"/>
<rect x="653.03" y="157.33" width="4.63" height="9.64" fill="#02020c"/>
<rect x="657.27" y="157.33" width="4.63" height="9.64" fill="#02010a"/>
<rect x="661.50" y="157.33" width="4.63" height="9.64" fill="#02020c"/>
<rect x="665.73" y="157.33" width="4.63" height="9.64" fill="#02010a"/>
<rect x="669.97" y="157.33" width="4.63" height="9.64" fill="#02020c"/>
<rect x="420.20" y="148.09" width="4.63" height="9.64" fill="#64156e"/>
<rect x="424.43" y="148.09" width="4.63" height="9.64" fill="#65156e"/>
<rect x="428.67" y="148.09" width="4.63" height="9.64" fill="#61136e"/>
<rect x="432.90" y="148.09" width="4.63" height="9.64" fill="#64156e"/>
<rect x="437.13" y="148.09" width="4.63" height="9.64" fill="#5f136e"/>
<rect x="441.37" y="148.09" width="4.63" height="9.64" fill="#61136e"/>
<rect x="445.60" y="148.09" width="4.63" height="9.64" fill="#5c126e"/>
<rect x="449.83" y="148.09" width="4.63" height="9.64" fill="#5d126e"/>
<rect x="454.07" y="148.09" width="4.63" height="9.64" fill="#59106e"/>
<rect x="458.30" y="148.09" width="4.63" height="9.64" fill="#5a116e"/>
<rect x="462.53" y="148.09" width="4.63" height="9.64" fill="#550f6d"/>
<rect x="466.77" y="148.09" width="4.63" height="9.64" fill="#57106e"/>
<rect x="471.00" y="148.09" width="4.63" height="9.64" fill="#520e6d"/>
<rect x="475.23" y="148.09" width="4.63" height="9.64" fill="#540f6d"/>
<rect x="479.47" y="148.09" width="4.63" height="9.64" fill="#4f0d6c"/>
<rect x="483.70" y="148.09" width="4.63" height="9.64" fill="#510e6c"/>
<rect x="487.93" y="148.09" width="8.87" height="9.64" fill="#4c0c6b"/>
<rect x="496.40" y="148.09" width="8.87" height="9.64" fill="#490b6a"/>
<rect x="504.87" y="148.09" width="4.63" height="9.64" fill="#440a68"/>
<rect x="509.10" y="148.09" width="4.63" height="9.64" fill="#450a69"/>
<rect x="513.33" y="148.09" width="8.87" height="9.64" fill="#400a67"/>
<rect x="521.80" y="148.09" width="8.87" height="9.64" fill="#3d0965"/>
<rect x="530.27" y="148.09" width="8.87" height="9.64" fill="#380962"/>
<rect x="538.73" y="148.09" width="8.87" height="9.64" fill="#340a5f"/>
<rect x="547.20" y="148.09" width="8.87" height="9.64" fill="#2f0a5b"/>
<rect x="555.67" y="148.09" width="8.87" height="9.64" fill="#290b55"/>
<rect x="564.13" y="148.09" width="4.63" height="9.64" fill="#260c51"/>
<rect x="568.37" y="148.09" width="4.63" height="9.64" fill="#240c4f"/>
<rect x="572.60" y="148.09" width="8.87" height="9.64" fill="#210c4a"/>
<rect x="581.07" y="148.09" width="8.87" height="9.64" fill="#1c0c43"/>
<rect x="589.53" y="148.09" width="8.87" height="9.64" fill="#180c3c"/>
<rect x="598.00" y="148.09" width="4.63" height="9.64" fill="#150b37"/>
<rect x="602.23" y="148.09" width="4.63" height="9.64" fill="#140b34"/>
<rect x="606.47" y="148.09" width="4.63" height="9.64" fill="#110a30"/>
<rect x="610.70" y="148.09" width="4.63" height="9.64" fill="#10092d"/>
<rect x="614.93" y="148.09" width="4.63" height="9.64" fill="#0d0829"/>
<rect x="619.17" y="148.09" width="4.63" height="9.64" fill="#0c0826"/>
<rect x="623.40" y="148.09" width="4.63" height="9.64" fill="#0a0722"/>
<rect x="627.63" y="148.09" width="4.63" height="9.64" fill="#09061f"/>
<rect x="631.87" y="148.09" width="4.63" height="9.64" fill="#060419"/>
<rect x="636.10" y="148.09" width="4.63" height="9.64" fill="#040314"/>
<rect x="640.33" y="148.09" width="4.63" height="9.64" fill="#030210"/>
<rect x="644.57" y="148.09" width="30.03" height="9.64" fill="#02020c"/>
<rect x="420.20" y="138.86" width="4.63" height="9.64" fill="#57106e"/>
<rect x="424.43" y="138.86" width="4.63" height="9.64" fill="#59106e"/>
<rect x="428.67" y="138.86" width="4.63" height="9.64" fill="#540f6d"/>
<rect x="432.90" y="138.86" width="4.63" height="9.64" fill="#550f6d"/>
<rect x="437.13" y="138.86" width="4.63" height="9.64" fill="#520e6d"/>
<rect x="441.37" y="138.86" width="4.63" height="9.64" fill="#540f6d"/>
<rect x="445.60" y="138.86" width="4.63" height="9.64" fill="#4f0d6c"/>
<rect x="449.83" y="138.86" width="4.63" height="9.64" fill="#510e6c"/>
<rect x="454.07" y="138.86" width="4.63" height="9.64" fill="#4c0c6b"/>
<rect x="458.30" y="138.86" width="4.63" height="9.64" fill="#4d0d6c"/>
<rect x="462.53" y="138.86" width="4.63" height="9.64" fill="#4a0c6b"/>
<rect x="466.77" y="138.86" width="4.63" height="9.64" fill="#4c0c6b"/>
<rect x="471.00" y="138.86" width="4.63" height="9.64" fill="#470b6a"/>
<rect x="475.23" y="138.86" width="4.63" height="9.64" fill="#490b6a"/>
<rect x="479.47" y="138.86" width="4.63" height="9.64" fill="#440a68"/>
<rect x="483.70" y="138.86" width="4.63" height="9.64" fill="#450a69"/>
<rect x="487.93" y="138.86" width="4.63" height="9.64" fill="#400a67"/>
<rect x="492.17" y="138.86" width="4.63" height="9.64" fill="#420a68"/>
<rect x="496.40" y="138.86" width="4.63" height="9.64" fill="#3d0965"/>
<rect x="500.63" y="138.86" width="4.63" height="9.64" fill="#3e0966"/>
<rect x="504.87" y="138.86" width="4.63" height="9.64" fill="#390963"/>
<rect x="509.10" y="138.86" width="4.63" height="9.64" fill="#3b0964"/>
<rect x="513.33" y="138.86" width="4.63" height="9.64" fill="#360961"/>
<rect x="517.57" y="138.86" width="4.63" height="9.64" fill="#380962"/>
<rect x="521.80" y="138.86" width="4.63" height="9.64" fill="#320a5e"/>
<rect x="526.03" y="138.86" width="4.63" height="9.64" fill="#340a5f"/>
<rect x="530.27" y="138.86" width="8.87" height="9.64" fill="#2f0a5b"/>
<rect x="538.73" y="138.86" width="8.87" height="9.64" fill="#2b0b57"/>
<rect x="547.20" y="138.86" width="8.87" height="9.64" fill="#280b53"/>
<rect x="555.67" y="138.86" width="8.87" height="9.64" fill="#240c4f"/>
<rect x="564.13" y="138.86" width="4.63" height="9.64" fill="#210c4a"/>
<rect x="568.37" y="138.86" width="4.63" height="9.64" fill="#1f0c48"/>
<rect x="572.60" y="138.86" width="8.87" height="9.64" fill="#1c0c43"/>
<rect x="581.07" y="138.86" width="8.87" height="9.64" fill="#190c3e"/>
<rect x="589.53" y="138.86" width="4.63" height="9.64" fill="#160b39"/>
<rect x="593.77" y="138.86" width="4.63" height="9.64" fill="#150b37"/>
<rect x="598.00" y="138.86" width="8.87" height="9.64" fill="#120a32"/>
<rect x="606.47" y="138.86" width="4.63" height="9.64" fill="#10092d"/>
<rect x="610.70" y="138.86" width="4.63" height="9.64" fill="#0e092b"/>
<rect x="614.93" y="138.86" width="8.87" height="9.64" fill="#0c0826"/>
<rect x="623.40" y="138.86" width="4.63" height="9.64" fill="#0a0722"/>
<rect x="627.63" y="138.86" width="4.63" height="9.64" fill="#09061f"/>
<rect x="631.87" y="138.86" width="4.63" height="9.64" fill="#08051d"/>
<rect x="636.10" y="138.86" width="4.63" height="9.64" fill="#07051b"/>
<rect x="640.33" y="138.86" width="4.63" height="9.64" fill="#040314"/>
<rect x="644.57" y="138.86" width="4.63" height="9.64" fill="#040312"/>
<rect x="648.80" y="138.86" width="25.80" height="9.64" fill="#02020e"/>
<rect x="420.20" y="129.62" width="4.63" height="9.64" fill="#490b6a"/>
<rect x="424.43" y="129.62" width="4.63" height="9.64" fill="#4c0c6b"/>
<rect x="428.67" y="129.62" width="4.63" height="9.64" fill="#470b6a"/>
<rect x="432.90" y="129.62" width="4.63" height="9.64" fill="#490b6a"/>
<rect x="437.13" y="129.62" width="4.63" height="9.64" fill="#450a69"/>
<rect x="441.37" y="129.62" width="4.63" height="9.64" fill="#470b6a"/>
<rect x="445.60" y="129.62" width="4.63" height="9.64" fill="#420a68"/>
<rect x="449.83" y="129.62" width="4.63" height="9.64" fill="#440a68"/>
<rect x="454.07" y="129.62" width="4.63" height="9.64" fill="#400a67"/>
<rect x="458.30" y="129.62" width="4.63" height="9.64" fill="#420a68"/>
<rect x="462.53" y="129.62" width="8.87" height="9.64" fill="#3e0966"/>
<rect x="471.00" y="129.62" width="4.63" height="9.64" fill="#3b0964"/>
<rect x="475.23" y="129.62" width="4.63" height="9.64" fill="#3d0965"/>
<rect x="479.47" y="129.62" width="8.87" height="9.64" fill="#390963"/>
<rect x="487.93" y="129.62" width="4.63" height="9.64" fill="#360961"/>
<rect x="492.17" y="129.62" width="4.63" height="9.64" fill="#380962"/>
<rect x="496.40" y="129.62" width="4.63" height="9.64" fill="#320a5e"/>
<rect x="500.63" y="129.62" width="4.63" height="9.64" fill="#340a5f"/>
<rect x="504.87" y="129.62" width="8.87" height="9.64" fill="#310a5c"/>
<rect x="513.33" y="129.62" width="8.87" height="9.64" fill="#2d0b59"/>
<rect x="521.80" y="129.62" width="4.63" height="9.64" fill="#290b55"/>
<rect x="526.03" y="129.62" width="4.63" height="9.64" fill="#2b0b57"/>
<rect x="530.27" y="129.62" width="8.87" height="9.64" fill="#280b53"/>
<rect x="538.73" y="129.62" width="8.87" height="9.64" fill="#240c4f"/>
<rect x="547.20" y="129.62" width="8.87" height="9.64" fill="#210c4a"/>
<rect x="555.67" y="129.62" width="8.87" height="9.64" fill="#1e0c45"/>
<rect x="564.13" y="129.62" width="8.87" height="9.64" fill="#1b0c41"/>
<rect x="572.60" y="129.62" width="8.87" height="9.64" fill="#180c3c"/>
<rect x="581.07" y="129.62" width="8.87" height="9.64" fill="#150b37"/>
<rect x="589.53" y="129.62" width="4.63" height="9.64" fill="#140b34"/>
<rect x="593.77" y="129.62" width="4.63" height="9.64" fill="#120a32"/>
<rect x="598.00" y="129.62" width="4.63" height="9.64" fill="#110a30"/>
<rect x="602.23" y="129.62" width="4.63" height="9.64" fill="#10092d"/>
<rect x="606.47" y="129.62" width="4.63" height="9.64" fill="#0e092b"/>
<rect x="610.70" y="129.62" width="4.63" height="9.64" fill="#0d0829"/>
<rect x="614.93" y="129.62" width="4.63" height="9.64" fill="#0c0826"/>
<rect x="619.17" y="129.62" width="4.63" height="9.64" fill="#0b0724"/>
<rect x="623.40" y="129.62" width="4.63" height="9.64" fill="#0a0722"/>
<rect x="627.63" y="129.62" width="4.63" height="9.64" fill="#09061f"/>
<rect x="631.87" y="129.62" width="8.87" height="9.64" fill="#07051b"/>
<rect x="640.33" y="129.62" width="8.87" height="9.64" fill="#050417"/>
<rect x="648.80" y="129.62" width="4.63" height="9.64" fill="#040312"/>
<rect x="653.03" y="129.62" width="21.57" height="9.64" fill="#030210"/>
<rect x="420.20" y="120.38" width="8.87" height="9.64" fill="#3d0965"/>
<rect x="428.67" y="120.38" width="4.63" height="9.64" fill="#390963"/>
<rect x="432.90" y="120.38" width="4.63" height="9.64" fill="#3b0964"/>
<rect x="437.13" y="120.38" width="4.63" height="9.64" fill="#380962"/>
<rect x="441.37" y="120.38" width="4.63" height="9.64" fill="#390963"/>
<rect x="445.60" y="120.38" width="4.63" height="9.64" fill="#360961"/>
<rect x="449.83" y="120.38" width="4.63" height="9.64" fill="#380962"/>
<rect x="454.07" y="120.38" width="4.63" height="9.64" fill="#340a5f"/>
<rect x="458.30" y="120.38" width="4.63" height="9.64" fill="#360961"/>
<rect x="462.53" y="120.38" width="8.87" height="9.64" fill="#320a5e"/>
<rect x="471.00" y="120.38" width="4.63" height="9.64" fill="#2f0a5b"/>
<rect x="475.23" y="120.38" width="4.63" height="9.64" fill="#310a5c"/>
<rect x="479.47" y="120.38" width="4.63" height="9.64" fill="#2d0b59"/>
<rect x="483.70" y="120.38" width="4.63" height="9.64" fill="#2f0a5b"/>
<rect x="487.93" y="120.38" width="8.87" height="9.64" fill="#2b0b57"/>
<rect x="496.40" y="120.38" width="4.63" height="9.64" fill="#280b53"/>
<rect x="500.63" y="120.38" width="4.63" height="9.64" fill="#290b55"/>
<rect x="504.87" y="120.38" width="8.87" height="9.64" fill="#260c51"/>
<rect x="513.33" y="120.38" width="8.87" height="9.64" fill="#240c4f"/>
<rect x="521.80" y="120.38" width="8.87" height="9.64" fill="#210c4a"/>
<rect x="530.27" y="120.38" width="8.87" height="9.64" fill="#1f0c48"/>
<rect x="538.73" y="120.38" width="8.87" height="9.64" fill="#1c0c43"/>
<rect x="547.20" y="120.38" width="8.87" height="9.64" fill="#1b0c41"/>
<rect x="555.67" y="120.38" width="8.87" height="9.64" fill="#180c3c"/>
<rect x="564.13" y="120.38" width="8.87" height="9.64" fill="#160b39"/>
<rect x="572.60" y="120.38" width="8.87" height="9.64" fill="#140b34"/>
<rect x="581.07" y="120.38" width="8.87" height="9.64" fill="#120a32"/>
<rect x="589.53" y="120.38" width="8.87" height="9.64" fill="#10092d"/>
<rect x="598.00" y="120.38" width="8.87" height="9.64" fill="#0d0829"/>
<rect x="606.47" y="120.38" width="8.87" height="9.64" fill="#0c0826"/>
<rect x="614.93" y="120.38" width="8.87" height="9.64" fill="#0a0722"/>
<rect x="623.40" y="120.38" width="4.63" height="9.64" fill="#09061f"/>
<rect x="627.63" y="120.38" width="4.63" height="9.64" fill="#08051d"/>
<rect x="631.87" y="120.38" width="4.63" height="9.64" fill="#07051b"/>
<rect x="636.10" y="120.38" width="4.63" height="9.64" fill="#060419"/>
<rect x="640.33" y="120.38" width="8.87" height="9.64" fill="#050417"/>
<rect x="648.80" y="120.38" width="25.80" height="9.64" fill="#040312"/>
<rect x="420.20" y="111.15" width="4.63" height="9.64" fill="#2f0a5b"/>
<rect x="424.43" y="111.15" width="4.63" height="9.64" fill="#310a5c"/>
<rect x="428.67" y="111.15" width="4.63" height="9.64" fill="#2d0b59"/>
<rect x="432.90" y="111.15" width="4.63" height="9.64" fill="#2f0a5b"/>
<rect x="437.13" y="111.15" width="4.63" height="9.64" fill="#2b0b57"/>
<rect x="441.37" y="111.15" width="4.63" height="9.64" fill="#2d0b59"/>
<rect x="445.60" y="111.15" width="4.63" height="9.64" fill="#290b55"/>
<rect x="449.83" y="111.15" width="4.63" height="9.64" fill="#2b0b57"/>
<rect x="454.07" y="111.15" width="4.63" height="9.64" fill="#280b53"/>
<rect x="458.30" y="111.15" width="4.63" height="9.64" fill="#290b55"/>
<rect x="462.53" y="111.15" width="8.87" height="9.64" fill="#260c51"/>
<rect x="471.00" y="111.15" width="8.87" height="9.64" fill="#240c4f"/>
<rect x="479.47" y="111.15" width="8.87" height="9.64" fill="#230c4c"/>
<rect x="487.93" y="111.15" width="8.87" height="9.64" fill="#210c4a"/>
<rect x="496.40" y="111.15" width="8.87" height="9.64" fill="#1f0c48"/>
<rect x="504.87" y="111.15" width="8.87" height="9.64" fill="#1e0c45"/>
<rect x="513.33" y="111.15" width="4.63" height="9.64" fill="#1b0c41"/>
<rect x="517.57" y="111.15" width="4.63" height="9.64" fill="#1c0c43"/>
<rect x="521.80" y="111.15" width="8.87" height="9.64" fill="#190c3e"/>
<rect x="530.27" y="111.15" width="8.87" height="9.64" fill="#180c3c"/>
<rect x="538.73" y="111.15" width="8.87" height="9.64" fill="#160b39"/>
<rect x="547.20" y="111.15" width="8.87" height="9.64" fill="#150b37"/>
<rect x="555.67" y="111.15" width="8.87" height="9.64" fill="#120a32"/>
<rect x="564.13" y="111.15" width="8.87" height="9.64" fill="#110a30"/>
<rect x="572.60" y="111.15" width="8.87" height="9.64" fill="#10092d"/>
<rect x="581.07" y="111.15" width="8.87" height="9.64" fill="#0e092b"/>
<rect x="589.53" y="111.15" width="8.87" height="9.64" fill="#0c0826"/>
<rect x="598.00" y="111.15" width="8.87" height="9.64" fill="#0b0724"/>
<rect x="606.47" y="111.15" width="8.87" height="9.64" fill="#0a0722"/>
<rect x="614.93" y="111.15" width="4.63" height="9.64" fill="#09061f"/>
<rect x="619.17" y="111.15" width="4.63" height="9.64" fill="#08051d"/>
<rect x="623.40" y="111.15" width="8.87" height="9.64" fill="#07051b"/>
<rect x="631.87" y="111.15" width="8.87" height="9.64" fill="#060419"/>
<rect x="640.33" y="111.15" width="4.63" height="9.64" fill="#050417"/>
<rect x="644.57" y="111.15" width="30.03" height="9.64" fill="#040314"/>
<rect x="420.20" y="101.91" width="8.87" height="9.64" fill="#240c4f"/>
<rect x="428.67" y="101.91" width="4.63" height="9.64" fill="#230c4c"/>
<rect x="432.90" y="101.91" width="4.63" height="9.64" fill="#240c4f"/>
<rect x="437.13" y="101.91" width="4.63" height="9.64" fill="#210c4a"/>
<rect x="441.37" y="101.91" width="4.63" height="9.64" fill="#230c4c"/>
<rect x="445.60" y="101.91" width="4.63" height="9.64" fill="#1f0c48"/>
<rect x="449.83" y="101.91" width="4.63" height="9.64" fill="#210c4a"/>
<rect x="454.07" y="101.91" width="8.87" height="9.64" fill="#1f0c48"/>
<rect x="462.53" y="101.91" width="8.87" height="9.64" fill="#1e0c45"/>
<rect x="471.00" y="101.91" width="8.87" height="9.64" fill="#1c0c43"/>
<rect x="479.47" y="101.91" width="8.87" height="9.64" fill="#1b0c41"/>
<rect x="487.93" y="101.91" width="8.87" height="9.64" fill="#190c3e"/>
<rect x="496.40" y="101.91" width="8.87" height="9.64" fill="#180c3c"/>
<rect x="504.87" y="101.91" width="4.63" height="9.64" fill="#160b39"/>
<rect x="509.10" y="101.91" width="4.63" height="9.64" fill="#180c3c"/>
<rect x="513.33" y="101.91" width="4.63" height="9.64" fill="#150b37"/>
<rect x="517.57" y="101.91" width="4.63" height="9.64" fill="#160b39"/>
<rect x="521.80" y="101.91" width="4.63" height="9.64" fill="#140b34"/>
<rect x="526.03" y="101.91" width="4.63" height="9.64" fill="#150b37"/>
<rect x="530.27" y="101.91" width="4.63" height="9.64" fill="#120a32"/>
<rect x="534.50" y="101.91" width="4.63" height="9.64" fill="#140b34"/>
<rect x="538.73" y="101.91" width="4.63" height="9.64" fill="#110a30"/>
<rect x="542.97" y="101.91" width="4.63" height="9.64" fill="#120a32"/>
<rect x="547.20" y="101.91" width="8.87" height="9.64" fill="#10092d"/>
<rect x="555.67" y="101.91" width="8.87" height="9.64" fill="#0e092b"/>
<rect x="564.13" y="101.91" width="8.87" height="9.64" fill="#0d0829"/>
<rect x="572.60" y="101.91" width="8.87" height="9.64" fill="#0c0826"/>
<rect x="581.07" y="101.91" width="8.87" height="9.64" fill="#0b0724"/>
<rect x="589.53" y="101.91" width="8.87" height="9.64" fill="#0a0722"/>
<rect x="598.00" y="101.91" width="8.87" height="9.64" fill="#09061f"/>
<rect x="606.47" y="101.91" width="8.87" height="9.64" fill="#08051d"/>
<rect x="614.93" y="101.91" width="8.87" height="9.64" fill="#07051b"/>
<rect x="623.40" y="101.91" width="8.87" height="9.64" fill="#060419"/>
<rect x="631.87" y="101.91" width="42.73" height="9.64" fill="#050417"/>
<rect x="420.20" y="92.67" width="4.63" height="9.64" fill="#1b0c41"/>
<rect x="424.43" y="92.67" width="4.63" height="9.64" fill="#1c0c43"/>
<rect x="428.67" y="92.67" width="4.63" height="9.64" fill="#190c3e"/>
<rect x="432.90" y="92.67" width="4.63" height="9.64" fill="#1b0c41"/>
<rect x="437.13" y="92.67" width="8.87" height="9.64" fill="#190c3e"/>
<rect x="445.60" y="92.67" width="8.87" height="9.64" fill="#180c3c"/>
<rect x="454.07" y="92.67" width="4.63" height="9.64" fill="#160b39"/>
<rect x="458.30" y="92.67" width="4.63" height="9.64" fill="#180c3c"/>
<rect x="462.53" y="92.67" width="8.87" height="9.64" fill="#160b39"/>
<rect x="471.00" y="92.67" width="8.87" height="9.64" fill="#150b37"/>
<rect x="479.47" y="92.67" width="4.63" height="9.64" fill="#140b34"/>
<rect x="483.70" y="92.67" width="4.63" height="9.64" fill="#150b37"/>
<rect x="487.93" y="92.67" width="4.63" height="9.64" fill="#120a32"/>
<rect x="492.17" y="92.67" width="4.63" height="9.64" fill="#140b34"/>
<rect x="496.40" y="92.67" width="8.87" height="9.64" fill="#120a32"/>
<rect x="504.87" y="92.67" width="8.87" height="9.64" fill="#110a30"/>
<rect x="513.33" y="92.67" width="8.87" height="9.64" fill="#10092d"/>
<rect x="521.80" y="92.67" width="4.63" height="9.64" fill="#0e092b"/>
<rect x="526.03" y="92.67" width="4.63" height="9.64" fill="#10092d"/>
<rect x="530.27" y="92.67" width="8.87" height="9.64" fill="#0e092b"/>
<rect x="538.73" y="92.67" width="8.87" height="9.64" fill="#0d0829"/>
<rect x="547.20" y="92.67" width="8.87" height="9.64" fill="#0c0826"/>
<rect x="555.67" y="92.67" width="8.87" height="9.64" fill="#0b0724"/>
<rect x="564.13" y="92.67" width="4.63" height="9.64" fill="#0a0722"/>
<rect x="568.37" y="92.67" width="4.63" height="9.64" fill="#0b0724"/>
<rect x="572.60" y="92.67" width="8.87" height="9.64" fill="#0a0722"/>
<rect x="581.07" y="92.67" width="8.87" height="9.64" fill="#09061f"/>
<rect x="589.53" y="92.67" width="8.87" height="9.64" fill="#08051d"/>
<rect x="598.00" y="92.67" width="8.87" height="9.64" fill="#07051b"/>
<rect x="606.47" y="92.67" width="68.13" height="9.64" fill="#060419"/>
<rect x="420.20" y="83.44" width="4.63" height="9.64" fill="#120a32"/>
<rect x="424.43" y="83.44" width="4.63" height="9.64" fill="#140b34"/>
<rect x="428.67" y="83.44" width="8.87" height="9.64" fill="#120a32"/>
<rect x="437.13" y="83.44" width="4.63" height="9.64" fill="#110a30"/>
<rect x="441.37" y="83.44" width="4.63" height="9.64" fill="#120a32"/>
<rect x="445.60" y="83.44" width="8.87" height="9.64" fill="#110a30"/>
<rect x="454.07" y="83.44" width="4.63" height="9.64" fill="#10092d"/>
<rect x="458.30" y="83.44" width="4.63" height="9.64" fill="#110a30"/>
<rect x="462.53" y="83.44" width="8.87" height="9.64" fill="#10092d"/>
<rect x="471.00" y="83.44" width="17.33" height="9.64" fill="#0e092b"/>
<rect x="487.93" y="83.44" width="8.87" height="9.64" fill="#0d0829"/>
<rect x="496.40" y="83.44" width="4.63" height="9.64" fill="#0c0826"/>
<rect x="500.63" y="83.44" width="4.63" height="9.64" fill="#0d0829"/>
<rect x="504.87" y="83.44" width="8.87" height="9.64" fill="#0c0826"/>
<rect x="513.33" y="83.44" width="17.33" height="9.64" fill="#0b0724"/>
<rect x="530.27" y="83.44" width="8.87" height="9.64" fill="#0a0722"/>
<rect x="538.73" y="83.44" width="4.63" height="9.64" fill="#09061f"/>
<rect x="542.97" y="83.44" width="4.63" height="9.64" fill="#0a0722"/>
<rect x="547.20" y="83.44" width="8.87" height="9.64" fill="#09061f"/>
<rect x="555.67" y="83.44" width="17.33" height="9.64" fill="#08051d"/>
<rect x="572.60" y="83.44" width="102.00" height="9.64" fill="#07051b"/>
<rect x="420.20" y="74.20" width="17.33" height="9.64" fill="#0c0826"/>
<rect x="437.13" y="74.20" width="17.33" height="9.64" fill="#0b0724"/>
<rect x="454.07" y="74.20" width="4.63" height="9.64" fill="#0a0722"/>
<rect x="458.30" y="74.20" width="4.63" height="9.64" fill="#0b0724"/>
<rect x="462.53" y="74.20" width="8.87" height="9.64" fill="#0a0722"/>
<rect x="471.00" y="74.20" width="4.63" height="9.64" fill="#09061f"/>
<rect x="475.23" y="74.20" width="4.63" height="9.64" fill="#0a0722"/>
<rect x="479.47" y="74.20" width="17.33" height="9.64" fill="#09061f"/>
<rect x="496.40" y="74.20" width="17.33" height="9.64" fill="#08051d"/>
<rect x="513.33" y="74.20" width="4.63" height="9.64" fill="#07051b"/>
<rect x="517.57" y="74.20" width="4.63" height="9.64" fill="#08051d"/>
<rect x="521.80" y="74.20" width="4.63" height="9.64" fill="#07051b"/>
<rect x="526.03" y="74.20" width="4.63" height="9.64" fill="#08051d"/>
<rect x="530.27" y="74.20" width="4.63" height="9.64" fill="#07051b"/>
<rect x="534.50" y="74.20" width="4.63" height="9.64" fill="#08051d"/>
<rect x="538.73" y="74.20" width="4.63" height="9.64" fill="#07051b"/>
<rect x="542.97" y="74.20" width="4.63" height="9.64" fill="#08051d"/>
<rect x="547.20" y="74.20" width="4.63" height="9.64" fill="#07051b"/>
<rect x="551.43" y="74.20" width="4.63" height="9.64" fill="#08051d"/>
<rect x="555.67" y="74.20" width="4.63" height="9.64" fill="#07051b"/>
<rect x="559.90" y="74.20" width="4.63" height="9.64" fill="#08051d"/>
<rect x="564.13" y="74.20" width="4.63" height="9.64" fill="#07051b"/>
<rect x="568.37" y="74.20" width="4.63" height="9.64" fill="#08051d"/>
<rect x="572.60" y="74.20" width="4.63" height="9.64" fill="#07051b"/>
<rect x="576.83" y="74.20" width="4.63" height="9.64" fill="#08051d"/>
<rect x="581.07" y="74.20" width="4.63" height="9.64" fill="#07051b"/>
<rect x="585.30" y="74.20" width="4.63" height="9.64" fill="#08051d"/>
<rect x="589.53" y="74.20" width="4.63" height="9.64" fill="#07051b"/>
<rect x="593.77" y="74.20" width="4.63" height="9.64" fill="#08051d"/>
<rect x="598.00" y="74.20" width="4.63" height="9.64" fill="#07051b"/>
<rect x="602.23" y="74.20" width="4.63" height="9.64" fill="#08051d"/>
<rect x="606.47" y="74.20" width="4.63" height="9.64" fill="#07051b"/>
<rect x="610.70" y="74.20" width="4.63" height="9.64" fill="#08051d"/>
<rect x="614.93" y="74.20" width="4.63" height="9.64" fill="#07051b"/>
<rect x="619.17" y="74.20" width="4.63" height="9.64" fill="#08051d"/>
<rect x="623.40" y="74.20" width="4.63" height="9.64" fill="#07051b"/>
<rect x="627.63" y="74.20" width="4.63" height="9.64" fill="#08051d"/>
<rect x="631.87" y="74.20" width="4.63" height="9.64" fill="#07051b"/>
<rect x="636.10" y="74.20" width="4.63" height="9.64" fill="#08051d"/>
<rect x="640.33" y="74.20" width="4.63" height="9.64" fill="#07051b"/>
<rect x="644.57" y="74.20" width="4.63" height="9.64" fill="#08051d"/>
<rect x="648.80" y="74.20" width="4.63" height="9.64" fill="#07051b"/>
<rect x="653.03" y="74.20" width="4.63" height="9.64" fill="#08051d"/>
<rect x="657.27" y="74.20" width="4.63" height="9.64" fill="#07051b"/>
<rect x="661.50" y="74.20" width="4.63" height="9.64" fill="#08051d"/>
<rect x="665.73" y="74.20" width="4.63" height="9.64" fill="#07051b"/>
<rect x="669.97" y="74.20" width="4.63" height="9.64" fill="#08051d"/></g>
<path d="M420.5 305.8 L478.5 308.5 L502.6 312.8 L536.5 318.3 L543.1 322.7 L545.3 327.7 L543.7 334.7 L539.8 344.6 L534.3 353.4 L523.4 363.9 L515.7 368.0 L502.6 373.7 L480.7 375.5 L420.5 378.1Z" fill="rgba(60,235,240,0.27)" stroke="none"/>
<path d="M420.5 305.8 L478.5 308.5 L502.6 312.8 L536.5 318.3 L543.1 322.7 L545.3 327.7 L543.7 334.7 L539.8 344.6 L534.3 353.4 L523.4 363.9 L515.7 368.0 L502.6 373.7 L480.7 375.5 L420.5 378.1" fill="none" stroke="#0ff" stroke-width="2" stroke-linejoin="round"/>
<path d="M420.2 366.4 L424.4 365.4 L428.7 364.4 L432.9 363.4 L437.1 362.3 L441.4 361.1 L445.6 359.9 L449.8 358.7 L454.1 357.4 L458.3 356.0 L462.5 354.5 L466.8 352.9 L471.0 351.3 L475.2 349.6 L479.5 347.8 L483.7 345.9 L487.9 343.9 L492.2 341.7 L496.4 339.5 L500.6 337.2 L504.9 334.8 L509.1 332.3 L513.3 329.6 L517.6 326.9 L521.8 324.0 L526.0 321.0 L530.3 317.9 L534.5 314.7 L538.7 311.4 L543.0 308.0 L547.2 304.5 L551.4 300.9 L555.7 297.2 L559.9 293.4 L564.1 289.5 L568.4 285.5 L572.6 281.4 L576.8 277.2 L581.1 273.0 L585.3 268.6 L589.5 264.3 L593.8 259.8 L598.0 255.3 L602.2 250.7 L606.5 246.1 L610.7 241.5 L614.9 236.8 L619.2 232.1 L623.4 227.4 L627.6 222.7 L631.9 218.0 L636.1 213.2 L640.3 208.6 L644.6 203.9 L648.8 199.3 L653.0 194.7 L657.3 190.2 L661.5 185.7 L665.7 181.4 L670.0 177.1 L674.2 173.0" fill="none" stroke="#fff" stroke-width="2.1" stroke-dasharray="14.8 6.8"/>
<g stroke="#000" stroke-width="1.1" fill="none">
<path d="M420.2 68 V458.4 H674.6"/>
<line x1="420.2" y1="458.4" x2="420.2" y2="453.4"/>
<line x1="462.5" y1="458.4" x2="462.5" y2="453.4"/>
<line x1="504.9" y1="458.4" x2="504.9" y2="453.4"/>
<line x1="547.2" y1="458.4" x2="547.2" y2="453.4"/>
<line x1="589.5" y1="458.4" x2="589.5" y2="453.4"/>
<line x1="631.9" y1="458.4" x2="631.9" y2="453.4"/>
<line x1="674.2" y1="458.4" x2="674.2" y2="453.4"/>
<line x1="420.2" y1="447.3" x2="426.5" y2="447.3"/>
<line x1="420.2" y1="373.7" x2="426.5" y2="373.7"/>
<line x1="420.2" y1="300.2" x2="426.5" y2="300.2"/>
<line x1="420.2" y1="226.6" x2="426.5" y2="226.6"/>
<line x1="420.2" y1="153.1" x2="426.5" y2="153.1"/>
<line x1="420.2" y1="79.5" x2="426.5" y2="79.5"/>
</g>
<g font-family="'DejaVu Sans',sans-serif" font-size="13.9" fill="#000">
<text x="420.2" y="476.5" text-anchor="middle">0.2</text>
<text x="462.5" y="476.5" text-anchor="middle">0.3</text>
<text x="504.9" y="476.5" text-anchor="middle">0.4</text>
<text x="547.2" y="476.5" text-anchor="middle">0.5</text>
<text x="589.5" y="476.5" text-anchor="middle">0.6</text>
<text x="631.9" y="476.5" text-anchor="middle">0.7</text>
<text x="674.2" y="476.5" text-anchor="middle">0.8</text>
<text x="412.6" y="452.5" text-anchor="end">30</text>
<text x="412.6" y="378.9" text-anchor="end">40</text>
<text x="412.6" y="305.4" text-anchor="end">50</text>
<text x="412.6" y="231.8" text-anchor="end">60</text>
<text x="412.6" y="158.3" text-anchor="end">70</text>
<text x="412.6" y="84.7" text-anchor="end">80</text>
</g>
<g stroke="#e4e4e4" stroke-width="1"><line x1="462.5" y1="68.5" x2="462.5" y2="74.2"/><line x1="504.9" y1="68.5" x2="504.9" y2="74.2"/><line x1="547.2" y1="68.5" x2="547.2" y2="74.2"/><line x1="589.5" y1="68.5" x2="589.5" y2="74.2"/><line x1="631.9" y1="68.5" x2="631.9" y2="74.2"/><line x1="674.2" y1="68.5" x2="674.2" y2="74.2"/></g>
<defs><linearGradient id="cb" x1="0" x2="1" y1="0" y2="0"><stop offset="0.000" stop-color="#000004"/><stop offset="0.036" stop-color="#040314"/><stop offset="0.071" stop-color="#0d0829"/><stop offset="0.107" stop-color="#190c3e"/><stop offset="0.143" stop-color="#280b53"/><stop offset="0.179" stop-color="#380962"/><stop offset="0.214" stop-color="#470b6a"/><stop offset="0.250" stop-color="#57106e"/><stop offset="0.286" stop-color="#65156e"/><stop offset="0.321" stop-color="#741a6e"/><stop offset="0.357" stop-color="#82206c"/><stop offset="0.393" stop-color="#902568"/><stop offset="0.429" stop-color="#9f2a63"/><stop offset="0.464" stop-color="#ad305d"/><stop offset="0.500" stop-color="#bc3754"/><stop offset="0.536" stop-color="#c83f4b"/><stop offset="0.571" stop-color="#d44842"/><stop offset="0.607" stop-color="#df5337"/><stop offset="0.643" stop-color="#e8602d"/><stop offset="0.679" stop-color="#ef6e21"/><stop offset="0.714" stop-color="#f57d15"/><stop offset="0.750" stop-color="#f98c0a"/><stop offset="0.786" stop-color="#fc9f07"/><stop offset="0.821" stop-color="#fcb014"/><stop offset="0.857" stop-color="#fac228"/><stop offset="0.893" stop-color="#f7d340"/><stop offset="0.929" stop-color="#f3e55d"/><stop offset="0.964" stop-color="#f2f482"/><stop offset="1.000" stop-color="#fcffa4"/></linearGradient></defs>
<rect x="446.8" y="34.4" width="211.4" height="14.4" fill="url(#cb)"/>
<g stroke="#444" stroke-width="1"><line x1="446.8" y1="48.3" x2="446.8" y2="53.8"/><line x1="458.9" y1="48.3" x2="458.9" y2="51.6"/><line x1="471.0" y1="48.3" x2="471.0" y2="51.6"/><line x1="483.0" y1="48.3" x2="483.0" y2="51.6"/><line x1="495.1" y1="48.3" x2="495.1" y2="51.6"/><line x1="507.2" y1="48.3" x2="507.2" y2="53.8"/><line x1="519.3" y1="48.3" x2="519.3" y2="51.6"/><line x1="531.4" y1="48.3" x2="531.4" y2="51.6"/><line x1="543.4" y1="48.3" x2="543.4" y2="51.6"/><line x1="555.5" y1="48.3" x2="555.5" y2="51.6"/><line x1="567.6" y1="48.3" x2="567.6" y2="53.8"/><line x1="579.7" y1="48.3" x2="579.7" y2="51.6"/><line x1="591.8" y1="48.3" x2="591.8" y2="51.6"/><line x1="603.8" y1="48.3" x2="603.8" y2="51.6"/><line x1="615.9" y1="48.3" x2="615.9" y2="51.6"/><line x1="628.0" y1="48.3" x2="628.0" y2="53.8"/><line x1="640.1" y1="48.3" x2="640.1" y2="51.6"/><line x1="652.2" y1="48.3" x2="652.2" y2="51.6"/></g>
<g font-family="'Liberation Sans',sans-serif" font-size="10.4" fill="#000" text-anchor="middle">
<text x="446.8" y="66.2">0</text>
<text x="507.2" y="66.2">0.1</text>
<text x="567.6" y="66.2">0.2</text>
<text x="628.0" y="66.2">0.3</text>
</g>
<rect x="47.6" y="123.6" width="305.4" height="305.6" fill="none" stroke="#7f7f7f" stroke-width="1.2"/>
<g stroke="#7f7f7f" stroke-width="1">
<line x1="53.9" y1="429.2" x2="53.9" y2="424.7"/>
<line x1="47.6" y1="422.9" x2="52.1" y2="422.9"/>
<line x1="127.0" y1="429.2" x2="127.0" y2="424.7"/>
<line x1="47.6" y1="349.8" x2="52.1" y2="349.8"/>
<line x1="200.2" y1="429.2" x2="200.2" y2="424.7"/>
<line x1="47.6" y1="276.6" x2="52.1" y2="276.6"/>
<line x1="273.4" y1="429.2" x2="273.4" y2="424.7"/>
<line x1="47.6" y1="203.5" x2="52.1" y2="203.5"/>
<line x1="346.5" y1="429.2" x2="346.5" y2="424.7"/>
<line x1="47.6" y1="130.3" x2="52.1" y2="130.3"/>
</g>
<g font-family="'Liberation Sans',sans-serif" font-size="12.5" fill="#000">
<text x="54.2" y="444.4" text-anchor="middle">− 10</text>
<text x="43.3" y="427.4" text-anchor="end">− 10</text>
<text x="127.3" y="444.4" text-anchor="middle">− 5</text>
<text x="43.3" y="354.2" text-anchor="end">− 5</text>
<text x="200.5" y="444.4" text-anchor="middle">0</text>
<text x="43.3" y="281.1" text-anchor="end">0</text>
<text x="273.7" y="444.4" text-anchor="middle">5</text>
<text x="43.3" y="208.0" text-anchor="end">5</text>
<text x="346.8" y="444.4" text-anchor="middle">10</text>
<text x="43.3" y="134.8" text-anchor="end">10</text>
</g>
<circle cx="200.2" cy="276.6" r="21.7" fill="none" stroke="#fff" stroke-width="1.3"/>
<circle cx="200.2" cy="276.6" r="15.0" fill="none" stroke="#fff" stroke-width="1.3"/>
<circle cx="261.4" cy="64.5" r="27.7" fill="none" stroke="#5e81b5" stroke-width="1"/>
<line x1="261.4" y1="64.5" x2="289" y2="64.5" stroke="#3a6a9a" stroke-width="0.7"/>
<g stroke="#000" stroke-width="1"><line x1="261.4" y1="35" x2="261.4" y2="38.5"/><line x1="261.4" y1="90.5" x2="261.4" y2="94"/><line x1="232" y1="64.5" x2="235.5" y2="64.5"/><line x1="287.5" y1="64.5" x2="291" y2="64.5"/></g>
<text x="5.1" y="29.0" font-family="'DejaVu Sans',sans-serif" font-size="28.9" textLength="37.5" lengthAdjust="spacingAndGlyphs">(a)</text>
<text x="405.5" y="23.6" font-family="'DejaVu Sans',sans-serif" font-size="28.9" textLength="38.5" lengthAdjust="spacingAndGlyphs">(b)</text>
<text x="88.8" y="69.8" font-family="'Liberation Serif',serif" font-size="27" textLength="108.6">arg(Δ(<tspan font-style="italic" font-weight="bold">k</tspan>))</text>
<g font-family="'Liberation Serif',serif" font-size="17.5">
<text x="247.4" y="29.7" textLength="27.8"><tspan font-style="italic">π</tspan>/2</text>
<text x="218.4" y="68.7" font-style="italic" textLength="8.1" lengthAdjust="spacingAndGlyphs">π</text>
<text x="293.7" y="70.6" textLength="8.1" lengthAdjust="spacingAndGlyphs">0</text>
<text x="241.2" y="108.3" textLength="36.8">3<tspan font-style="italic">π</tspan>/2</text>
</g>
<text x="164.1" y="471.3" font-family="'Liberation Serif',serif" font-size="25" font-style="italic" textLength="72.4">k<tspan font-size="17" dy="4.3">x</tspan><tspan dy="-4.3" font-style="normal">/</tspan>k<tspan font-size="17" dy="4.3">F<tspan font-style="normal">,1</tspan></tspan></text>
<text transform="translate(22.8,315.7) rotate(-90)" font-family="'Liberation Serif',serif" font-size="25" font-style="italic" textLength="70.7">k<tspan font-size="17" dy="4.3">y</tspan><tspan dy="-4.3" font-style="normal">/</tspan>k<tspan font-size="17" dy="4.3">F<tspan font-style="normal">,1</tspan></tspan></text>
<text x="516.6" y="25.2" font-family="'Liberation Serif',serif" font-size="24" textLength="84.9">Δ<tspan font-size="17" dy="6.7">0</tspan><tspan dy="-6.7" font-size="20"> (meV)</tspan></text>
<text transform="translate(381.2,302.8) rotate(-90)" font-family="'Liberation Serif',serif" font-size="21" textLength="75.6"><tspan font-style="italic">D</tspan> (meV)</text>
<text x="480.2" y="500.2" font-family="'Liberation Serif',serif" font-size="22.5" textLength="131.5"><tspan font-style="italic">n</tspan><tspan font-style="italic" font-size="15.5" dy="5.5">S</tspan><tspan dy="-5.5"> (10</tspan><tspan font-size="15.5" dy="-9.5">12</tspan><tspan dy="9.5" font-size="12"> </tspan><tspan>cm</tspan><tspan font-size="15.5" dy="-9.5">−2</tspan><tspan dy="9.5">)</tspan></text>
</svg>
</div></body></html>
